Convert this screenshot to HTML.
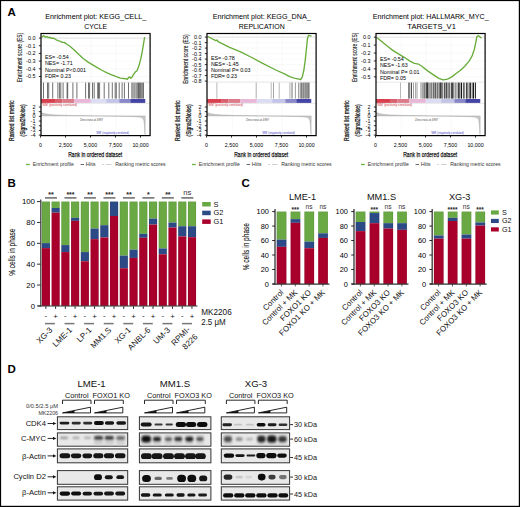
<!DOCTYPE html>
<html><head><meta charset="utf-8"><style>
html,body{margin:0;padding:0;background:#fff;}
svg{display:block;font-family:"Liberation Sans", sans-serif;}
</style></head><body>
<svg width="520" height="507" viewBox="0 0 520 507">
<rect width="520" height="507" fill="#fff"/>
<text x="95.70" y="19.40" font-size="7.1" text-anchor="middle" fill="#000" textLength="101" lengthAdjust="spacingAndGlyphs">Enrichment plot: KEGG_CELL_</text>
<text x="95.70" y="28.60" font-size="7.1" text-anchor="middle" fill="#000" textLength="23" lengthAdjust="spacingAndGlyphs">CYCLE</text>
<line x1="66.25" y1="33.50" x2="66.25" y2="82.00" stroke="#f0f0f0" stroke-width="0.5"/>
<line x1="66.25" y1="103.00" x2="66.25" y2="135.60" stroke="#f0f0f0" stroke-width="0.5"/>
<line x1="91.20" y1="33.50" x2="91.20" y2="82.00" stroke="#f0f0f0" stroke-width="0.5"/>
<line x1="91.20" y1="103.00" x2="91.20" y2="135.60" stroke="#f0f0f0" stroke-width="0.5"/>
<line x1="116.15" y1="33.50" x2="116.15" y2="82.00" stroke="#f0f0f0" stroke-width="0.5"/>
<line x1="116.15" y1="103.00" x2="116.15" y2="135.60" stroke="#f0f0f0" stroke-width="0.5"/>
<line x1="38.80" y1="38.10" x2="41.00" y2="38.10" stroke="#000" stroke-width="0.8"/>
<text x="35.40" y="40.00" font-size="5.4" text-anchor="end" fill="#000">0.0</text>
<line x1="41.00" y1="38.10" x2="150.10" y2="38.10" stroke="#dadada" stroke-width="0.8"/>
<line x1="38.80" y1="45.78" x2="41.00" y2="45.78" stroke="#000" stroke-width="0.8"/>
<text x="35.40" y="47.68" font-size="5.4" text-anchor="end" fill="#000">-0.1</text>
<line x1="41.00" y1="45.78" x2="150.10" y2="45.78" stroke="#f2f2f2" stroke-width="0.5"/>
<line x1="38.80" y1="53.46" x2="41.00" y2="53.46" stroke="#000" stroke-width="0.8"/>
<text x="35.40" y="55.36" font-size="5.4" text-anchor="end" fill="#000">-0.2</text>
<line x1="41.00" y1="53.46" x2="150.10" y2="53.46" stroke="#f2f2f2" stroke-width="0.5"/>
<line x1="38.80" y1="61.14" x2="41.00" y2="61.14" stroke="#000" stroke-width="0.8"/>
<text x="35.40" y="63.04" font-size="5.4" text-anchor="end" fill="#000">-0.3</text>
<line x1="41.00" y1="61.14" x2="150.10" y2="61.14" stroke="#f2f2f2" stroke-width="0.5"/>
<line x1="38.80" y1="68.82" x2="41.00" y2="68.82" stroke="#000" stroke-width="0.8"/>
<text x="35.40" y="70.72" font-size="5.4" text-anchor="end" fill="#000">-0.4</text>
<line x1="41.00" y1="68.82" x2="150.10" y2="68.82" stroke="#f2f2f2" stroke-width="0.5"/>
<line x1="38.80" y1="76.50" x2="41.00" y2="76.50" stroke="#000" stroke-width="0.8"/>
<text x="35.40" y="78.40" font-size="5.4" text-anchor="end" fill="#000">-0.5</text>
<line x1="41.00" y1="76.50" x2="150.10" y2="76.50" stroke="#f2f2f2" stroke-width="0.5"/>
<line x1="38.80" y1="107.00" x2="41.00" y2="107.00" stroke="#000" stroke-width="0.8"/>
<text x="35.40" y="108.90" font-size="5.4" text-anchor="end" fill="#000">2</text>
<line x1="38.80" y1="111.68" x2="41.00" y2="111.68" stroke="#000" stroke-width="0.8"/>
<text x="35.40" y="113.58" font-size="5.4" text-anchor="end" fill="#000">1</text>
<line x1="38.80" y1="116.36" x2="41.00" y2="116.36" stroke="#000" stroke-width="0.8"/>
<text x="35.40" y="118.26" font-size="5.4" text-anchor="end" fill="#000">0</text>
<line x1="38.80" y1="121.04" x2="41.00" y2="121.04" stroke="#000" stroke-width="0.8"/>
<text x="35.40" y="122.94" font-size="5.4" text-anchor="end" fill="#000">-1</text>
<line x1="38.80" y1="125.72" x2="41.00" y2="125.72" stroke="#000" stroke-width="0.8"/>
<text x="35.40" y="127.62" font-size="5.4" text-anchor="end" fill="#000">-2</text>
<line x1="38.80" y1="130.40" x2="41.00" y2="130.40" stroke="#000" stroke-width="0.8"/>
<text x="35.40" y="132.30" font-size="5.4" text-anchor="end" fill="#000">-3</text>
<line x1="38.80" y1="135.08" x2="41.00" y2="135.08" stroke="#000" stroke-width="0.8"/>
<text x="35.40" y="136.98" font-size="5.4" text-anchor="end" fill="#000">-4</text>
<line x1="41.00" y1="82.20" x2="150.10" y2="82.20" stroke="#d8d8d8" stroke-width="0.6"/>
<line x1="41.00" y1="103.40" x2="150.10" y2="103.40" stroke="#d8d8d8" stroke-width="0.6"/>
<line x1="43.50" y1="82.60" x2="43.50" y2="98.60" stroke="#333" stroke-width="0.7"/>
<line x1="47.50" y1="82.60" x2="47.50" y2="98.60" stroke="#333" stroke-width="0.7"/>
<line x1="48.70" y1="82.60" x2="48.70" y2="98.60" stroke="#333" stroke-width="0.7"/>
<line x1="52.70" y1="82.60" x2="52.70" y2="98.60" stroke="#333" stroke-width="0.7"/>
<line x1="57.90" y1="82.60" x2="57.90" y2="98.60" stroke="#333" stroke-width="0.7"/>
<line x1="59.60" y1="82.60" x2="59.60" y2="98.60" stroke="#333" stroke-width="0.7"/>
<line x1="60.80" y1="82.60" x2="60.80" y2="98.60" stroke="#333" stroke-width="0.7"/>
<line x1="63.10" y1="82.60" x2="63.10" y2="98.60" stroke="#333" stroke-width="0.7"/>
<line x1="67.10" y1="82.60" x2="67.10" y2="98.60" stroke="#333" stroke-width="0.7"/>
<line x1="67.70" y1="82.60" x2="67.70" y2="98.60" stroke="#333" stroke-width="0.7"/>
<line x1="72.90" y1="82.60" x2="72.90" y2="98.60" stroke="#333" stroke-width="0.7"/>
<line x1="76.90" y1="82.60" x2="76.90" y2="98.60" stroke="#333" stroke-width="0.7"/>
<line x1="85.60" y1="82.60" x2="85.60" y2="98.60" stroke="#333" stroke-width="0.7"/>
<line x1="88.50" y1="82.60" x2="88.50" y2="98.60" stroke="#333" stroke-width="0.7"/>
<line x1="89.60" y1="82.60" x2="89.60" y2="98.60" stroke="#333" stroke-width="0.7"/>
<line x1="92.50" y1="82.60" x2="92.50" y2="98.60" stroke="#333" stroke-width="0.7"/>
<line x1="94.20" y1="82.60" x2="94.20" y2="98.60" stroke="#333" stroke-width="0.7"/>
<line x1="97.70" y1="82.60" x2="97.70" y2="98.60" stroke="#333" stroke-width="0.7"/>
<line x1="98.50" y1="82.60" x2="98.50" y2="98.60" stroke="#333" stroke-width="0.7"/>
<line x1="99.60" y1="82.60" x2="99.60" y2="98.60" stroke="#333" stroke-width="0.7"/>
<line x1="104.20" y1="82.60" x2="104.20" y2="98.60" stroke="#333" stroke-width="0.7"/>
<line x1="108.80" y1="82.60" x2="108.80" y2="98.60" stroke="#333" stroke-width="0.7"/>
<line x1="112.30" y1="82.60" x2="112.30" y2="98.60" stroke="#333" stroke-width="0.7"/>
<line x1="115.20" y1="82.60" x2="115.20" y2="98.60" stroke="#333" stroke-width="0.7"/>
<line x1="116.30" y1="82.60" x2="116.30" y2="98.60" stroke="#333" stroke-width="0.7"/>
<line x1="119.20" y1="82.60" x2="119.20" y2="98.60" stroke="#333" stroke-width="0.7"/>
<line x1="122.10" y1="82.60" x2="122.10" y2="98.60" stroke="#333" stroke-width="0.7"/>
<line x1="124.40" y1="82.60" x2="124.40" y2="98.60" stroke="#333" stroke-width="0.7"/>
<line x1="128.50" y1="82.60" x2="128.50" y2="98.60" stroke="#333" stroke-width="0.7"/>
<line x1="131.90" y1="82.60" x2="131.90" y2="98.60" stroke="#333" stroke-width="0.7"/>
<line x1="133.10" y1="82.60" x2="133.10" y2="98.60" stroke="#333" stroke-width="0.7"/>
<line x1="134.80" y1="82.60" x2="134.80" y2="98.60" stroke="#333" stroke-width="0.7"/>
<line x1="136.20" y1="82.60" x2="136.20" y2="98.60" stroke="#333" stroke-width="0.7"/>
<line x1="137.70" y1="82.60" x2="137.70" y2="98.60" stroke="#333" stroke-width="0.7"/>
<line x1="138.50" y1="82.60" x2="138.50" y2="98.60" stroke="#333" stroke-width="0.7"/>
<line x1="139.40" y1="82.60" x2="139.40" y2="98.60" stroke="#333" stroke-width="0.7"/>
<line x1="140.30" y1="82.60" x2="140.30" y2="98.60" stroke="#333" stroke-width="0.7"/>
<line x1="141.20" y1="82.60" x2="141.20" y2="98.60" stroke="#333" stroke-width="0.7"/>
<line x1="142.30" y1="82.60" x2="142.30" y2="98.60" stroke="#333" stroke-width="0.7"/>
<line x1="143.50" y1="82.60" x2="143.50" y2="98.60" stroke="#333" stroke-width="0.7"/>
<rect x="41.20" y="99.00" width="14.61" height="3.90" fill="#d8404f"/>
<rect x="55.76" y="99.00" width="6.60" height="3.90" fill="#d8606f"/>
<rect x="62.31" y="99.00" width="12.11" height="3.90" fill="#dc7c8a"/>
<rect x="74.38" y="99.00" width="16.48" height="3.90" fill="#e8b8d8"/>
<rect x="90.81" y="99.00" width="15.44" height="3.90" fill="#dcdcf2"/>
<rect x="106.20" y="99.00" width="13.15" height="3.90" fill="#c4c4e8"/>
<rect x="119.30" y="99.00" width="11.07" height="3.90" fill="#8888c8"/>
<rect x="130.33" y="99.00" width="14.92" height="3.90" fill="#4444a6"/>
<text x="42.00" y="105.60" font-size="2.6" fill="#d03040" textLength="35" lengthAdjust="spacingAndGlyphs">'WM' (positively correlated)</text>
<text x="80.00" y="120.80" font-size="3.0" fill="#444" textLength="23" lengthAdjust="spacingAndGlyphs">Zero cross at 4997</text>
<text x="96.00" y="134.00" font-size="2.6" fill="#4040c0" textLength="33" lengthAdjust="spacingAndGlyphs">'MM' (negatively correlated)</text>
<polygon points="41.50,115.90 41.50,112.60 44.00,113.60 49.00,114.40 56.00,115.00 71.00,115.50 91.00,115.80 93.00,115.90 116.00,116.20 136.00,116.70 141.00,117.30 143.00,118.50 144.00,121.00 144.60,127.00 145.00,134.50 145.20,115.90" fill="#c8c8c8" stroke="#999" stroke-width="0.4"/>
<polyline points="41.92,37.23 43.77,35.62 45.39,37.23 47.00,36.54 48.39,37.69 50.00,37.23 51.62,38.39 53.46,38.15 55.77,39.54 58.08,40.69 60.39,41.39 62.23,42.31 63.85,42.31 66.16,43.69 69.62,46.00 74.23,49.92 78.85,54.54 83.47,58.69 88.08,62.16 92.70,64.93 97.31,67.70 101.93,70.23 106.54,72.54 111.16,74.62 115.78,76.47 120.39,78.08 123.85,78.54 126.16,78.77 127.31,79.47 128.47,77.62 129.62,76.93 130.78,78.31 131.93,77.16 133.78,74.16 135.39,71.85 137.01,70.70 138.85,66.08 140.70,59.16 142.32,51.08 143.47,44.16 144.62,37.23" stroke="#68ad3a" stroke-width="1.35" fill="none" stroke-linejoin="round"/>
<text x="44.90" y="59.15" font-size="5.35" fill="#000">ES= -0.54</text>
<text x="44.90" y="65.38" font-size="5.35" fill="#000">NES= -1.71</text>
<text x="44.90" y="71.61" font-size="5.35" fill="#000">Nominal P&lt;0.001</text>
<text x="44.90" y="77.84" font-size="5.35" fill="#000">FDR= 0.23</text>
<rect x="41.00" y="33.5" width="109.10" height="102.10" fill="none" stroke="#000" stroke-width="1.2"/>
<line x1="40.50" y1="135.60" x2="40.50" y2="137.60" stroke="#000" stroke-width="0.8"/>
<text x="40.50" y="146.60" font-size="5.3" text-anchor="middle" fill="#000">0</text>
<line x1="65.50" y1="135.60" x2="65.50" y2="137.60" stroke="#000" stroke-width="0.8"/>
<text x="65.50" y="146.60" font-size="5.3" text-anchor="middle" fill="#000">2,500</text>
<line x1="90.50" y1="135.60" x2="90.50" y2="137.60" stroke="#000" stroke-width="0.8"/>
<text x="90.50" y="146.60" font-size="5.3" text-anchor="middle" fill="#000">5,000</text>
<line x1="115.50" y1="135.60" x2="115.50" y2="137.60" stroke="#000" stroke-width="0.8"/>
<text x="115.50" y="146.60" font-size="5.3" text-anchor="middle" fill="#000">7,500</text>
<line x1="140.50" y1="135.60" x2="140.50" y2="137.60" stroke="#000" stroke-width="0.8"/>
<text x="140.50" y="146.60" font-size="5.3" text-anchor="middle" fill="#000">10,000</text>
<text x="95.20" y="157.00" font-size="7.8" text-anchor="middle" fill="#111" textLength="54" lengthAdjust="spacingAndGlyphs" stroke="#111" stroke-width="0.25">Rank in ordered dataset</text>
<text transform="translate(21.60,57.50) rotate(-90)" font-size="7.4" text-anchor="middle" fill="#111" textLength="49.5" lengthAdjust="spacingAndGlyphs" stroke="#111" stroke-width="0.12">Enrichment score (ES)</text>
<text transform="translate(14.40,120.7) rotate(-90)" font-size="7.4" text-anchor="middle" fill="#111" textLength="40.5" lengthAdjust="spacingAndGlyphs" stroke="#111" stroke-width="0.25">Ranked list metric</text>
<text transform="translate(25.10,120.4) rotate(-90)" font-size="7.4" text-anchor="middle" fill="#111" textLength="32" lengthAdjust="spacingAndGlyphs" stroke="#111" stroke-width="0.25">(Signal2Noise)</text>
<line x1="26.00" y1="164.50" x2="29.80" y2="164.50" stroke="#6db33f" stroke-width="1.3"/>
<text x="32.80" y="166.30" font-size="5.2" fill="#333" textLength="41" lengthAdjust="spacingAndGlyphs">Enrichment profile</text>
<line x1="80.60" y1="164.50" x2="84.00" y2="164.50" stroke="#555" stroke-width="0.9"/>
<text x="85.80" y="166.30" font-size="5.2" fill="#333" textLength="9.8" lengthAdjust="spacingAndGlyphs">Hits</text>
<line x1="102.20" y1="164.50" x2="104.00" y2="164.50" stroke="#bbb" stroke-width="0.7"/>
<line x1="106.00" y1="164.50" x2="111.70" y2="164.50" stroke="#bbb" stroke-width="0.7"/>
<text x="115.20" y="166.30" font-size="5.2" fill="#333" textLength="50.5" lengthAdjust="spacingAndGlyphs">Ranking metric scores</text>
<text x="261.70" y="19.40" font-size="7.1" text-anchor="middle" fill="#000" textLength="98" lengthAdjust="spacingAndGlyphs">Enrichment plot: KEGG_DNA_</text>
<text x="261.70" y="28.60" font-size="7.1" text-anchor="middle" fill="#000" textLength="46" lengthAdjust="spacingAndGlyphs">REPLICATION</text>
<line x1="232.25" y1="33.50" x2="232.25" y2="82.00" stroke="#f0f0f0" stroke-width="0.5"/>
<line x1="232.25" y1="103.00" x2="232.25" y2="135.60" stroke="#f0f0f0" stroke-width="0.5"/>
<line x1="257.20" y1="33.50" x2="257.20" y2="82.00" stroke="#f0f0f0" stroke-width="0.5"/>
<line x1="257.20" y1="103.00" x2="257.20" y2="135.60" stroke="#f0f0f0" stroke-width="0.5"/>
<line x1="282.15" y1="33.50" x2="282.15" y2="82.00" stroke="#f0f0f0" stroke-width="0.5"/>
<line x1="282.15" y1="103.00" x2="282.15" y2="135.60" stroke="#f0f0f0" stroke-width="0.5"/>
<line x1="204.80" y1="37.10" x2="207.00" y2="37.10" stroke="#000" stroke-width="0.8"/>
<text x="201.40" y="39.00" font-size="5.4" text-anchor="end" fill="#000">0.0</text>
<line x1="207.00" y1="37.10" x2="316.10" y2="37.10" stroke="#dadada" stroke-width="0.8"/>
<line x1="204.80" y1="42.60" x2="207.00" y2="42.60" stroke="#000" stroke-width="0.8"/>
<text x="201.40" y="44.50" font-size="5.4" text-anchor="end" fill="#000">-0.1</text>
<line x1="207.00" y1="42.60" x2="316.10" y2="42.60" stroke="#f2f2f2" stroke-width="0.5"/>
<line x1="204.80" y1="48.10" x2="207.00" y2="48.10" stroke="#000" stroke-width="0.8"/>
<text x="201.40" y="50.00" font-size="5.4" text-anchor="end" fill="#000">-0.2</text>
<line x1="207.00" y1="48.10" x2="316.10" y2="48.10" stroke="#f2f2f2" stroke-width="0.5"/>
<line x1="204.80" y1="53.60" x2="207.00" y2="53.60" stroke="#000" stroke-width="0.8"/>
<text x="201.40" y="55.50" font-size="5.4" text-anchor="end" fill="#000">-0.3</text>
<line x1="207.00" y1="53.60" x2="316.10" y2="53.60" stroke="#f2f2f2" stroke-width="0.5"/>
<line x1="204.80" y1="59.10" x2="207.00" y2="59.10" stroke="#000" stroke-width="0.8"/>
<text x="201.40" y="61.00" font-size="5.4" text-anchor="end" fill="#000">-0.4</text>
<line x1="207.00" y1="59.10" x2="316.10" y2="59.10" stroke="#f2f2f2" stroke-width="0.5"/>
<line x1="204.80" y1="64.60" x2="207.00" y2="64.60" stroke="#000" stroke-width="0.8"/>
<text x="201.40" y="66.50" font-size="5.4" text-anchor="end" fill="#000">-0.5</text>
<line x1="207.00" y1="64.60" x2="316.10" y2="64.60" stroke="#f2f2f2" stroke-width="0.5"/>
<line x1="204.80" y1="70.10" x2="207.00" y2="70.10" stroke="#000" stroke-width="0.8"/>
<text x="201.40" y="72.00" font-size="5.4" text-anchor="end" fill="#000">-0.6</text>
<line x1="207.00" y1="70.10" x2="316.10" y2="70.10" stroke="#f2f2f2" stroke-width="0.5"/>
<line x1="204.80" y1="75.60" x2="207.00" y2="75.60" stroke="#000" stroke-width="0.8"/>
<text x="201.40" y="77.50" font-size="5.4" text-anchor="end" fill="#000">-0.7</text>
<line x1="207.00" y1="75.60" x2="316.10" y2="75.60" stroke="#f2f2f2" stroke-width="0.5"/>
<line x1="204.80" y1="81.10" x2="207.00" y2="81.10" stroke="#000" stroke-width="0.8"/>
<text x="201.40" y="83.00" font-size="5.4" text-anchor="end" fill="#000">-0.8</text>
<line x1="207.00" y1="81.10" x2="316.10" y2="81.10" stroke="#f2f2f2" stroke-width="0.5"/>
<line x1="204.80" y1="107.00" x2="207.00" y2="107.00" stroke="#000" stroke-width="0.8"/>
<text x="201.40" y="108.90" font-size="5.4" text-anchor="end" fill="#000">2</text>
<line x1="204.80" y1="111.68" x2="207.00" y2="111.68" stroke="#000" stroke-width="0.8"/>
<text x="201.40" y="113.58" font-size="5.4" text-anchor="end" fill="#000">1</text>
<line x1="204.80" y1="116.36" x2="207.00" y2="116.36" stroke="#000" stroke-width="0.8"/>
<text x="201.40" y="118.26" font-size="5.4" text-anchor="end" fill="#000">0</text>
<line x1="204.80" y1="121.04" x2="207.00" y2="121.04" stroke="#000" stroke-width="0.8"/>
<text x="201.40" y="122.94" font-size="5.4" text-anchor="end" fill="#000">-1</text>
<line x1="204.80" y1="125.72" x2="207.00" y2="125.72" stroke="#000" stroke-width="0.8"/>
<text x="201.40" y="127.62" font-size="5.4" text-anchor="end" fill="#000">-2</text>
<line x1="204.80" y1="130.40" x2="207.00" y2="130.40" stroke="#000" stroke-width="0.8"/>
<text x="201.40" y="132.30" font-size="5.4" text-anchor="end" fill="#000">-3</text>
<line x1="204.80" y1="135.08" x2="207.00" y2="135.08" stroke="#000" stroke-width="0.8"/>
<text x="201.40" y="136.98" font-size="5.4" text-anchor="end" fill="#000">-4</text>
<line x1="207.00" y1="82.20" x2="316.10" y2="82.20" stroke="#d8d8d8" stroke-width="0.6"/>
<line x1="207.00" y1="103.40" x2="316.10" y2="103.40" stroke="#d8d8d8" stroke-width="0.6"/>
<line x1="216.90" y1="82.60" x2="216.90" y2="98.60" stroke="#888" stroke-width="0.6"/>
<line x1="256.20" y1="82.60" x2="256.20" y2="98.60" stroke="#777" stroke-width="0.6"/>
<line x1="271.20" y1="82.60" x2="271.20" y2="98.60" stroke="#888" stroke-width="0.6"/>
<line x1="273.50" y1="82.60" x2="273.50" y2="98.60" stroke="#666" stroke-width="0.6"/>
<line x1="279.20" y1="82.60" x2="279.20" y2="98.60" stroke="#888" stroke-width="0.6"/>
<line x1="289.60" y1="82.60" x2="289.60" y2="98.60" stroke="#aaa" stroke-width="0.6"/>
<line x1="291.20" y1="82.60" x2="291.20" y2="98.60" stroke="#666" stroke-width="0.6"/>
<line x1="292.40" y1="82.60" x2="292.40" y2="98.60" stroke="#777" stroke-width="0.6"/>
<line x1="295.40" y1="82.60" x2="295.40" y2="98.60" stroke="#555" stroke-width="0.6"/>
<line x1="298.80" y1="82.60" x2="298.80" y2="98.60" stroke="#444" stroke-width="0.7"/>
<line x1="300.50" y1="82.60" x2="300.50" y2="98.60" stroke="#666" stroke-width="0.6"/>
<line x1="301.60" y1="82.60" x2="301.60" y2="98.60" stroke="#333" stroke-width="0.7"/>
<line x1="302.70" y1="82.60" x2="302.70" y2="98.60" stroke="#555" stroke-width="0.6"/>
<line x1="303.80" y1="82.60" x2="303.80" y2="98.60" stroke="#222" stroke-width="0.7"/>
<line x1="305.00" y1="82.60" x2="305.00" y2="98.60" stroke="#444" stroke-width="0.6"/>
<line x1="306.00" y1="82.60" x2="306.00" y2="98.60" stroke="#222" stroke-width="0.7"/>
<line x1="307.10" y1="82.60" x2="307.10" y2="98.60" stroke="#333" stroke-width="0.6"/>
<line x1="308.20" y1="82.60" x2="308.20" y2="98.60" stroke="#111" stroke-width="0.7"/>
<line x1="309.20" y1="82.60" x2="309.20" y2="98.60" stroke="#444" stroke-width="0.6"/>
<rect x="207.20" y="99.00" width="14.61" height="3.90" fill="#d8404f"/>
<rect x="221.76" y="99.00" width="6.60" height="3.90" fill="#d8606f"/>
<rect x="228.31" y="99.00" width="12.11" height="3.90" fill="#dc7c8a"/>
<rect x="240.38" y="99.00" width="16.48" height="3.90" fill="#e8b8d8"/>
<rect x="256.81" y="99.00" width="15.44" height="3.90" fill="#dcdcf2"/>
<rect x="272.20" y="99.00" width="13.15" height="3.90" fill="#c4c4e8"/>
<rect x="285.30" y="99.00" width="11.07" height="3.90" fill="#8888c8"/>
<rect x="296.33" y="99.00" width="14.92" height="3.90" fill="#4444a6"/>
<text x="208.00" y="105.60" font-size="2.6" fill="#d03040" textLength="35" lengthAdjust="spacingAndGlyphs">'WM' (positively correlated)</text>
<text x="246.00" y="120.80" font-size="3.0" fill="#444" textLength="23" lengthAdjust="spacingAndGlyphs">Zero cross at 4997</text>
<text x="262.00" y="134.00" font-size="2.6" fill="#4040c0" textLength="33" lengthAdjust="spacingAndGlyphs">'MM' (negatively correlated)</text>
<polygon points="207.50,115.90 207.50,112.60 210.00,113.60 215.00,114.40 222.00,115.00 237.00,115.50 257.00,115.80 259.00,115.90 282.00,116.20 302.00,116.70 307.00,117.30 309.00,118.50 310.00,121.00 310.60,127.00 311.00,134.50 311.20,115.90" fill="#c8c8c8" stroke="#999" stroke-width="0.4"/>
<polyline points="207.70,36.50 215.80,40.70 216.90,40.00 218.10,41.60 229.60,47.40 241.20,52.20 252.70,58.00 264.20,64.20 275.80,70.00 285.00,74.20 289.60,76.70 294.20,78.10 298.90,79.20 300.70,79.70 302.30,76.90 303.90,70.00 305.30,59.60 306.50,48.10 307.40,38.80 308.50,35.40 310.40,35.80 311.50,36.10" stroke="#68ad3a" stroke-width="1.35" fill="none" stroke-linejoin="round"/>
<text x="210.90" y="59.85" font-size="5.35" fill="#000">ES= -0.78</text>
<text x="210.90" y="65.92" font-size="5.35" fill="#000">NES= -1.45</text>
<text x="210.90" y="71.99" font-size="5.35" fill="#000">Nominal P= 0.03</text>
<text x="210.90" y="78.06" font-size="5.35" fill="#000">FDR= 0.23</text>
<rect x="207.00" y="33.5" width="109.10" height="102.10" fill="none" stroke="#000" stroke-width="1.2"/>
<line x1="206.50" y1="135.60" x2="206.50" y2="137.60" stroke="#000" stroke-width="0.8"/>
<text x="206.50" y="146.60" font-size="5.3" text-anchor="middle" fill="#000">0</text>
<line x1="231.50" y1="135.60" x2="231.50" y2="137.60" stroke="#000" stroke-width="0.8"/>
<text x="231.50" y="146.60" font-size="5.3" text-anchor="middle" fill="#000">2,500</text>
<line x1="256.50" y1="135.60" x2="256.50" y2="137.60" stroke="#000" stroke-width="0.8"/>
<text x="256.50" y="146.60" font-size="5.3" text-anchor="middle" fill="#000">5,000</text>
<line x1="281.50" y1="135.60" x2="281.50" y2="137.60" stroke="#000" stroke-width="0.8"/>
<text x="281.50" y="146.60" font-size="5.3" text-anchor="middle" fill="#000">7,500</text>
<line x1="306.50" y1="135.60" x2="306.50" y2="137.60" stroke="#000" stroke-width="0.8"/>
<text x="306.50" y="146.60" font-size="5.3" text-anchor="middle" fill="#000">10,000</text>
<text x="261.20" y="157.00" font-size="7.8" text-anchor="middle" fill="#111" textLength="54" lengthAdjust="spacingAndGlyphs" stroke="#111" stroke-width="0.25">Rank in ordered dataset</text>
<text transform="translate(187.60,59.00) rotate(-90)" font-size="7.4" text-anchor="middle" fill="#111" textLength="49.5" lengthAdjust="spacingAndGlyphs" stroke="#111" stroke-width="0.12">Enrichment score (ES)</text>
<text transform="translate(180.40,120.7) rotate(-90)" font-size="7.4" text-anchor="middle" fill="#111" textLength="40.5" lengthAdjust="spacingAndGlyphs" stroke="#111" stroke-width="0.25">Ranked list metric</text>
<text transform="translate(191.10,120.4) rotate(-90)" font-size="7.4" text-anchor="middle" fill="#111" textLength="32" lengthAdjust="spacingAndGlyphs" stroke="#111" stroke-width="0.25">(Signal2Noise)</text>
<line x1="192.00" y1="164.50" x2="195.80" y2="164.50" stroke="#6db33f" stroke-width="1.3"/>
<text x="198.80" y="166.30" font-size="5.2" fill="#333" textLength="41" lengthAdjust="spacingAndGlyphs">Enrichment profile</text>
<line x1="246.60" y1="164.50" x2="250.00" y2="164.50" stroke="#555" stroke-width="0.9"/>
<text x="251.80" y="166.30" font-size="5.2" fill="#333" textLength="9.8" lengthAdjust="spacingAndGlyphs">Hits</text>
<line x1="268.20" y1="164.50" x2="270.00" y2="164.50" stroke="#bbb" stroke-width="0.7"/>
<line x1="272.00" y1="164.50" x2="277.70" y2="164.50" stroke="#bbb" stroke-width="0.7"/>
<text x="281.20" y="166.30" font-size="5.2" fill="#333" textLength="50.5" lengthAdjust="spacingAndGlyphs">Ranking metric scores</text>
<text x="430.70" y="19.40" font-size="7.1" text-anchor="middle" fill="#000" textLength="116" lengthAdjust="spacingAndGlyphs">Enrichment plot: HALLMARK_MYC_</text>
<text x="431.60" y="28.60" font-size="7.1" text-anchor="middle" fill="#000" textLength="48.5" lengthAdjust="spacingAndGlyphs">TARGETS_V1</text>
<line x1="401.25" y1="33.50" x2="401.25" y2="82.00" stroke="#f0f0f0" stroke-width="0.5"/>
<line x1="401.25" y1="103.00" x2="401.25" y2="135.60" stroke="#f0f0f0" stroke-width="0.5"/>
<line x1="426.20" y1="33.50" x2="426.20" y2="82.00" stroke="#f0f0f0" stroke-width="0.5"/>
<line x1="426.20" y1="103.00" x2="426.20" y2="135.60" stroke="#f0f0f0" stroke-width="0.5"/>
<line x1="451.15" y1="33.50" x2="451.15" y2="82.00" stroke="#f0f0f0" stroke-width="0.5"/>
<line x1="451.15" y1="103.00" x2="451.15" y2="135.60" stroke="#f0f0f0" stroke-width="0.5"/>
<line x1="373.80" y1="37.20" x2="376.00" y2="37.20" stroke="#000" stroke-width="0.8"/>
<text x="370.40" y="39.10" font-size="5.4" text-anchor="end" fill="#000">0.0</text>
<line x1="376.00" y1="37.20" x2="485.10" y2="37.20" stroke="#dadada" stroke-width="0.8"/>
<line x1="373.80" y1="45.12" x2="376.00" y2="45.12" stroke="#000" stroke-width="0.8"/>
<text x="370.40" y="47.02" font-size="5.4" text-anchor="end" fill="#000">-0.1</text>
<line x1="376.00" y1="45.12" x2="485.10" y2="45.12" stroke="#f2f2f2" stroke-width="0.5"/>
<line x1="373.80" y1="53.04" x2="376.00" y2="53.04" stroke="#000" stroke-width="0.8"/>
<text x="370.40" y="54.94" font-size="5.4" text-anchor="end" fill="#000">-0.2</text>
<line x1="376.00" y1="53.04" x2="485.10" y2="53.04" stroke="#f2f2f2" stroke-width="0.5"/>
<line x1="373.80" y1="60.96" x2="376.00" y2="60.96" stroke="#000" stroke-width="0.8"/>
<text x="370.40" y="62.86" font-size="5.4" text-anchor="end" fill="#000">-0.3</text>
<line x1="376.00" y1="60.96" x2="485.10" y2="60.96" stroke="#f2f2f2" stroke-width="0.5"/>
<line x1="373.80" y1="68.88" x2="376.00" y2="68.88" stroke="#000" stroke-width="0.8"/>
<text x="370.40" y="70.78" font-size="5.4" text-anchor="end" fill="#000">-0.4</text>
<line x1="376.00" y1="68.88" x2="485.10" y2="68.88" stroke="#f2f2f2" stroke-width="0.5"/>
<line x1="373.80" y1="76.80" x2="376.00" y2="76.80" stroke="#000" stroke-width="0.8"/>
<text x="370.40" y="78.70" font-size="5.4" text-anchor="end" fill="#000">-0.5</text>
<line x1="376.00" y1="76.80" x2="485.10" y2="76.80" stroke="#f2f2f2" stroke-width="0.5"/>
<line x1="373.80" y1="107.00" x2="376.00" y2="107.00" stroke="#000" stroke-width="0.8"/>
<text x="370.40" y="108.90" font-size="5.4" text-anchor="end" fill="#000">2</text>
<line x1="373.80" y1="111.68" x2="376.00" y2="111.68" stroke="#000" stroke-width="0.8"/>
<text x="370.40" y="113.58" font-size="5.4" text-anchor="end" fill="#000">1</text>
<line x1="373.80" y1="116.36" x2="376.00" y2="116.36" stroke="#000" stroke-width="0.8"/>
<text x="370.40" y="118.26" font-size="5.4" text-anchor="end" fill="#000">0</text>
<line x1="373.80" y1="121.04" x2="376.00" y2="121.04" stroke="#000" stroke-width="0.8"/>
<text x="370.40" y="122.94" font-size="5.4" text-anchor="end" fill="#000">-1</text>
<line x1="373.80" y1="125.72" x2="376.00" y2="125.72" stroke="#000" stroke-width="0.8"/>
<text x="370.40" y="127.62" font-size="5.4" text-anchor="end" fill="#000">-2</text>
<line x1="373.80" y1="130.40" x2="376.00" y2="130.40" stroke="#000" stroke-width="0.8"/>
<text x="370.40" y="132.30" font-size="5.4" text-anchor="end" fill="#000">-3</text>
<line x1="373.80" y1="135.08" x2="376.00" y2="135.08" stroke="#000" stroke-width="0.8"/>
<text x="370.40" y="136.98" font-size="5.4" text-anchor="end" fill="#000">-4</text>
<line x1="376.00" y1="82.20" x2="485.10" y2="82.20" stroke="#d8d8d8" stroke-width="0.6"/>
<line x1="376.00" y1="103.40" x2="485.10" y2="103.40" stroke="#d8d8d8" stroke-width="0.6"/>
<line x1="400.50" y1="82.60" x2="400.50" y2="98.60" stroke="#999" stroke-width="0.7"/>
<line x1="408.80" y1="82.60" x2="408.80" y2="98.60" stroke="#222" stroke-width="0.8"/>
<line x1="409.80" y1="82.60" x2="409.80" y2="98.60" stroke="#444" stroke-width="0.7"/>
<line x1="411.50" y1="82.60" x2="411.50" y2="98.60" stroke="#222" stroke-width="0.8"/>
<line x1="413.50" y1="82.60" x2="413.50" y2="98.60" stroke="#777" stroke-width="0.7"/>
<line x1="415.50" y1="82.60" x2="415.50" y2="98.60" stroke="#888" stroke-width="0.7"/>
<line x1="417.00" y1="82.60" x2="417.00" y2="98.60" stroke="#777" stroke-width="0.7"/>
<line x1="421.00" y1="82.60" x2="421.00" y2="98.60" stroke="#555" stroke-width="0.7"/>
<line x1="423.00" y1="82.60" x2="423.00" y2="98.60" stroke="#222" stroke-width="0.8"/>
<line x1="424.50" y1="82.60" x2="424.50" y2="98.60" stroke="#444" stroke-width="0.7"/>
<line x1="426.20" y1="82.60" x2="426.20" y2="98.60" stroke="#222" stroke-width="1.2"/>
<line x1="427.70" y1="82.60" x2="427.70" y2="98.60" stroke="#222" stroke-width="1.2"/>
<line x1="429.12" y1="82.60" x2="429.12" y2="98.60" stroke="#444" stroke-width="0.8"/>
<line x1="430.69" y1="82.60" x2="430.69" y2="98.60" stroke="#888" stroke-width="1.0"/>
<line x1="431.87" y1="82.60" x2="431.87" y2="98.60" stroke="#222" stroke-width="0.8"/>
<line x1="433.87" y1="82.60" x2="433.87" y2="98.60" stroke="#333" stroke-width="1.2"/>
<line x1="435.69" y1="82.60" x2="435.69" y2="98.60" stroke="#333" stroke-width="1.0"/>
<line x1="437.29" y1="82.60" x2="437.29" y2="98.60" stroke="#222" stroke-width="0.8"/>
<line x1="438.89" y1="82.60" x2="438.89" y2="98.60" stroke="#888" stroke-width="1.2"/>
<line x1="440.22" y1="82.60" x2="440.22" y2="98.60" stroke="#111" stroke-width="1.2"/>
<line x1="441.97" y1="82.60" x2="441.97" y2="98.60" stroke="#222" stroke-width="1.2"/>
<line x1="442.92" y1="82.60" x2="442.92" y2="98.60" stroke="#888" stroke-width="0.8"/>
<line x1="444.73" y1="82.60" x2="444.73" y2="98.60" stroke="#222" stroke-width="1.0"/>
<line x1="446.28" y1="82.60" x2="446.28" y2="98.60" stroke="#333" stroke-width="1.2"/>
<line x1="448.05" y1="82.60" x2="448.05" y2="98.60" stroke="#333" stroke-width="1.0"/>
<line x1="449.75" y1="82.60" x2="449.75" y2="98.60" stroke="#444" stroke-width="1.0"/>
<line x1="451.71" y1="82.60" x2="451.71" y2="98.60" stroke="#222" stroke-width="1.0"/>
<line x1="452.71" y1="82.60" x2="452.71" y2="98.60" stroke="#222" stroke-width="1.0"/>
<line x1="453.85" y1="82.60" x2="453.85" y2="98.60" stroke="#666" stroke-width="1.0"/>
<line x1="455.61" y1="82.60" x2="455.61" y2="98.60" stroke="#888" stroke-width="1.0"/>
<line x1="456.97" y1="82.60" x2="456.97" y2="98.60" stroke="#888" stroke-width="1.0"/>
<line x1="458.51" y1="82.60" x2="458.51" y2="98.60" stroke="#444" stroke-width="1.2"/>
<line x1="459.85" y1="82.60" x2="459.85" y2="98.60" stroke="#222" stroke-width="1.0"/>
<line x1="461.50" y1="82.60" x2="461.50" y2="98.60" stroke="#111" stroke-width="1.0"/>
<line x1="463.49" y1="82.60" x2="463.49" y2="98.60" stroke="#666" stroke-width="1.2"/>
<line x1="464.57" y1="82.60" x2="464.57" y2="98.60" stroke="#888" stroke-width="1.0"/>
<line x1="466.53" y1="82.60" x2="466.53" y2="98.60" stroke="#444" stroke-width="1.2"/>
<line x1="467.55" y1="82.60" x2="467.55" y2="98.60" stroke="#666" stroke-width="0.8"/>
<line x1="469.14" y1="82.60" x2="469.14" y2="98.60" stroke="#444" stroke-width="1.0"/>
<line x1="470.36" y1="82.60" x2="470.36" y2="98.60" stroke="#111" stroke-width="1.0"/>
<line x1="472.20" y1="82.60" x2="472.20" y2="98.60" stroke="#333" stroke-width="0.8"/>
<line x1="473.48" y1="82.60" x2="473.48" y2="98.60" stroke="#111" stroke-width="1.0"/>
<line x1="475.36" y1="82.60" x2="475.36" y2="98.60" stroke="#111" stroke-width="1.0"/>
<rect x="376.20" y="99.00" width="14.61" height="3.90" fill="#d8404f"/>
<rect x="390.76" y="99.00" width="6.60" height="3.90" fill="#d8606f"/>
<rect x="397.31" y="99.00" width="12.11" height="3.90" fill="#dc7c8a"/>
<rect x="409.38" y="99.00" width="16.48" height="3.90" fill="#e8b8d8"/>
<rect x="425.81" y="99.00" width="15.44" height="3.90" fill="#dcdcf2"/>
<rect x="441.20" y="99.00" width="13.15" height="3.90" fill="#c4c4e8"/>
<rect x="454.30" y="99.00" width="11.07" height="3.90" fill="#8888c8"/>
<rect x="465.33" y="99.00" width="14.92" height="3.90" fill="#4444a6"/>
<text x="377.00" y="105.60" font-size="2.6" fill="#d03040" textLength="35" lengthAdjust="spacingAndGlyphs">'WM' (positively correlated)</text>
<text x="415.00" y="120.80" font-size="3.0" fill="#444" textLength="23" lengthAdjust="spacingAndGlyphs">Zero cross at 4997</text>
<text x="431.00" y="134.00" font-size="2.6" fill="#4040c0" textLength="33" lengthAdjust="spacingAndGlyphs">'MM' (negatively correlated)</text>
<polygon points="376.50,115.90 376.50,112.60 379.00,113.60 384.00,114.40 391.00,115.00 406.00,115.50 426.00,115.80 428.00,115.90 451.00,116.20 471.00,116.70 476.00,117.30 478.00,118.50 479.00,121.00 479.60,127.00 480.00,134.50 480.20,115.90" fill="#c8c8c8" stroke="#999" stroke-width="0.4"/>
<polyline points="376.80,37.40 381.10,40.90 386.90,45.80 392.70,50.40 398.50,53.80 404.20,57.30 410.00,61.10 414.30,63.40 418.60,64.20 421.50,66.00 427.30,70.60 433.10,74.60 438.80,78.40 443.20,79.80 447.50,79.20 451.80,76.90 456.10,73.50 460.50,70.30 464.80,66.20 469.10,61.10 472.00,56.20 474.30,49.50 475.80,42.30 476.90,36.50 478.40,35.70 480.10,37.10 481.50,38.30" stroke="#68ad3a" stroke-width="1.35" fill="none" stroke-linejoin="round"/>
<text x="379.90" y="60.85" font-size="5.35" fill="#000">ES= -0.54</text>
<text x="379.90" y="67.30" font-size="5.35" fill="#000">NES= -1.63</text>
<text x="379.90" y="73.75" font-size="5.35" fill="#000">Nominal P= 0.01</text>
<text x="379.90" y="80.20" font-size="5.35" fill="#000">FDR= 0.05</text>
<rect x="376.00" y="33.5" width="109.10" height="102.10" fill="none" stroke="#000" stroke-width="1.2"/>
<line x1="375.50" y1="135.60" x2="375.50" y2="137.60" stroke="#000" stroke-width="0.8"/>
<text x="375.50" y="146.60" font-size="5.3" text-anchor="middle" fill="#000">0</text>
<line x1="400.50" y1="135.60" x2="400.50" y2="137.60" stroke="#000" stroke-width="0.8"/>
<text x="400.50" y="146.60" font-size="5.3" text-anchor="middle" fill="#000">2,500</text>
<line x1="425.50" y1="135.60" x2="425.50" y2="137.60" stroke="#000" stroke-width="0.8"/>
<text x="425.50" y="146.60" font-size="5.3" text-anchor="middle" fill="#000">5,000</text>
<line x1="450.50" y1="135.60" x2="450.50" y2="137.60" stroke="#000" stroke-width="0.8"/>
<text x="450.50" y="146.60" font-size="5.3" text-anchor="middle" fill="#000">7,500</text>
<line x1="475.50" y1="135.60" x2="475.50" y2="137.60" stroke="#000" stroke-width="0.8"/>
<text x="475.50" y="146.60" font-size="5.3" text-anchor="middle" fill="#000">10,000</text>
<text x="430.20" y="157.00" font-size="7.8" text-anchor="middle" fill="#111" textLength="54" lengthAdjust="spacingAndGlyphs" stroke="#111" stroke-width="0.25">Rank in ordered dataset</text>
<text transform="translate(356.60,57.30) rotate(-90)" font-size="7.4" text-anchor="middle" fill="#111" textLength="49.5" lengthAdjust="spacingAndGlyphs" stroke="#111" stroke-width="0.12">Enrichment score (ES)</text>
<text transform="translate(349.40,120.7) rotate(-90)" font-size="7.4" text-anchor="middle" fill="#111" textLength="40.5" lengthAdjust="spacingAndGlyphs" stroke="#111" stroke-width="0.25">Ranked list metric</text>
<text transform="translate(360.10,120.4) rotate(-90)" font-size="7.4" text-anchor="middle" fill="#111" textLength="32" lengthAdjust="spacingAndGlyphs" stroke="#111" stroke-width="0.25">(Signal2Noise)</text>
<line x1="361.00" y1="164.50" x2="364.80" y2="164.50" stroke="#6db33f" stroke-width="1.3"/>
<text x="367.80" y="166.30" font-size="5.2" fill="#333" textLength="41" lengthAdjust="spacingAndGlyphs">Enrichment profile</text>
<line x1="415.60" y1="164.50" x2="419.00" y2="164.50" stroke="#555" stroke-width="0.9"/>
<text x="420.80" y="166.30" font-size="5.2" fill="#333" textLength="9.8" lengthAdjust="spacingAndGlyphs">Hits</text>
<line x1="437.20" y1="164.50" x2="439.00" y2="164.50" stroke="#bbb" stroke-width="0.7"/>
<line x1="441.00" y1="164.50" x2="446.70" y2="164.50" stroke="#bbb" stroke-width="0.7"/>
<text x="450.20" y="166.30" font-size="5.2" fill="#333" textLength="50.5" lengthAdjust="spacingAndGlyphs">Ranking metric scores</text>
<text x="7.60" y="16.30" font-size="11.5" font-weight="bold" fill="#000">A</text>
<text x="7.60" y="187.00" font-size="11.5" font-weight="bold" fill="#000">B</text>
<rect x="41.85" y="201.60" width="8.10" height="41.51" fill="#69a843"/>
<rect x="41.85" y="243.11" width="8.10" height="5.01" fill="#2b4a86"/>
<rect x="41.85" y="248.12" width="8.10" height="57.78" fill="#a8002b"/>
<rect x="42.10" y="201.85" width="7.60" height="104.05" fill="none" stroke="#000" stroke-opacity="0.12" stroke-width="0.5"/>
<rect x="51.59" y="201.60" width="8.10" height="6.36" fill="#69a843"/>
<rect x="51.59" y="207.96" width="8.10" height="4.69" fill="#2b4a86"/>
<rect x="51.59" y="212.66" width="8.10" height="93.24" fill="#a8002b"/>
<rect x="51.84" y="201.85" width="7.60" height="104.05" fill="none" stroke="#000" stroke-opacity="0.12" stroke-width="0.5"/>
<rect x="61.33" y="201.60" width="8.10" height="43.49" fill="#69a843"/>
<rect x="61.33" y="245.09" width="8.10" height="6.99" fill="#2b4a86"/>
<rect x="61.33" y="252.08" width="8.10" height="53.82" fill="#a8002b"/>
<rect x="61.58" y="201.85" width="7.60" height="104.05" fill="none" stroke="#000" stroke-opacity="0.12" stroke-width="0.5"/>
<rect x="71.07" y="201.60" width="8.10" height="16.27" fill="#69a843"/>
<rect x="71.07" y="217.87" width="8.10" height="3.02" fill="#2b4a86"/>
<rect x="71.07" y="220.90" width="8.10" height="85.00" fill="#a8002b"/>
<rect x="71.32" y="201.85" width="7.60" height="104.05" fill="none" stroke="#000" stroke-opacity="0.12" stroke-width="0.5"/>
<rect x="80.81" y="201.60" width="8.10" height="50.48" fill="#69a843"/>
<rect x="80.81" y="252.08" width="8.10" height="9.18" fill="#2b4a86"/>
<rect x="80.81" y="261.26" width="8.10" height="44.64" fill="#a8002b"/>
<rect x="81.06" y="201.85" width="7.60" height="104.05" fill="none" stroke="#000" stroke-opacity="0.12" stroke-width="0.5"/>
<rect x="90.55" y="201.60" width="8.10" height="26.91" fill="#69a843"/>
<rect x="90.55" y="228.51" width="8.10" height="10.64" fill="#2b4a86"/>
<rect x="90.55" y="239.15" width="8.10" height="66.75" fill="#a8002b"/>
<rect x="90.80" y="201.85" width="7.60" height="104.05" fill="none" stroke="#000" stroke-opacity="0.12" stroke-width="0.5"/>
<rect x="100.29" y="201.60" width="8.10" height="23.57" fill="#69a843"/>
<rect x="100.29" y="225.17" width="8.10" height="12.31" fill="#2b4a86"/>
<rect x="100.29" y="237.48" width="8.10" height="68.42" fill="#a8002b"/>
<rect x="100.54" y="201.85" width="7.60" height="104.05" fill="none" stroke="#000" stroke-opacity="0.12" stroke-width="0.5"/>
<rect x="110.03" y="201.60" width="8.10" height="0.00" fill="#69a843"/>
<rect x="110.03" y="201.60" width="8.10" height="14.39" fill="#2b4a86"/>
<rect x="110.03" y="215.99" width="8.10" height="89.91" fill="#a8002b"/>
<rect x="110.28" y="201.85" width="7.60" height="104.05" fill="none" stroke="#000" stroke-opacity="0.12" stroke-width="0.5"/>
<rect x="119.77" y="201.60" width="8.10" height="54.03" fill="#69a843"/>
<rect x="119.77" y="255.63" width="8.10" height="12.62" fill="#2b4a86"/>
<rect x="119.77" y="268.25" width="8.10" height="37.65" fill="#a8002b"/>
<rect x="120.02" y="201.85" width="7.60" height="104.05" fill="none" stroke="#000" stroke-opacity="0.12" stroke-width="0.5"/>
<rect x="129.51" y="201.60" width="8.10" height="48.08" fill="#69a843"/>
<rect x="129.51" y="249.68" width="8.10" height="8.24" fill="#2b4a86"/>
<rect x="129.51" y="257.92" width="8.10" height="47.98" fill="#a8002b"/>
<rect x="129.76" y="201.85" width="7.60" height="104.05" fill="none" stroke="#000" stroke-opacity="0.12" stroke-width="0.5"/>
<rect x="139.25" y="201.60" width="8.10" height="32.23" fill="#69a843"/>
<rect x="139.25" y="233.83" width="8.10" height="3.96" fill="#2b4a86"/>
<rect x="139.25" y="237.79" width="8.10" height="68.11" fill="#a8002b"/>
<rect x="139.50" y="201.85" width="7.60" height="104.05" fill="none" stroke="#000" stroke-opacity="0.12" stroke-width="0.5"/>
<rect x="148.99" y="201.60" width="8.10" height="17.00" fill="#69a843"/>
<rect x="148.99" y="218.60" width="8.10" height="5.95" fill="#2b4a86"/>
<rect x="148.99" y="224.55" width="8.10" height="81.35" fill="#a8002b"/>
<rect x="149.24" y="201.85" width="7.60" height="104.05" fill="none" stroke="#000" stroke-opacity="0.12" stroke-width="0.5"/>
<rect x="158.73" y="201.60" width="8.10" height="46.83" fill="#69a843"/>
<rect x="158.73" y="248.43" width="8.10" height="5.84" fill="#2b4a86"/>
<rect x="158.73" y="254.27" width="8.10" height="51.63" fill="#a8002b"/>
<rect x="158.98" y="201.85" width="7.60" height="104.05" fill="none" stroke="#000" stroke-opacity="0.12" stroke-width="0.5"/>
<rect x="168.47" y="201.60" width="8.10" height="20.96" fill="#69a843"/>
<rect x="168.47" y="222.56" width="8.10" height="5.01" fill="#2b4a86"/>
<rect x="168.47" y="227.57" width="8.10" height="78.33" fill="#a8002b"/>
<rect x="168.72" y="201.85" width="7.60" height="104.05" fill="none" stroke="#000" stroke-opacity="0.12" stroke-width="0.5"/>
<rect x="178.21" y="201.60" width="8.10" height="24.61" fill="#69a843"/>
<rect x="178.21" y="226.21" width="8.10" height="10.22" fill="#2b4a86"/>
<rect x="178.21" y="236.44" width="8.10" height="69.46" fill="#a8002b"/>
<rect x="178.46" y="201.85" width="7.60" height="104.05" fill="none" stroke="#000" stroke-opacity="0.12" stroke-width="0.5"/>
<rect x="187.95" y="201.60" width="8.10" height="24.61" fill="#69a843"/>
<rect x="187.95" y="226.21" width="8.10" height="10.95" fill="#2b4a86"/>
<rect x="187.95" y="237.17" width="8.10" height="68.73" fill="#a8002b"/>
<rect x="188.20" y="201.85" width="7.60" height="104.05" fill="none" stroke="#000" stroke-opacity="0.12" stroke-width="0.5"/>
<line x1="40.80" y1="199.50" x2="40.80" y2="306.50" stroke="#333" stroke-width="1.2"/>
<line x1="37.90" y1="305.95" x2="197.50" y2="305.95" stroke="#333" stroke-width="1.1"/>
<line x1="37.00" y1="305.90" x2="40.80" y2="305.90" stroke="#333" stroke-width="1.0"/>
<text x="35.00" y="308.60" font-size="7.7" text-anchor="end" fill="#000">0</text>
<line x1="37.00" y1="285.04" x2="40.80" y2="285.04" stroke="#333" stroke-width="1.0"/>
<text x="35.00" y="287.74" font-size="7.7" text-anchor="end" fill="#000" textLength="8.7" lengthAdjust="spacingAndGlyphs">20</text>
<line x1="37.00" y1="264.18" x2="40.80" y2="264.18" stroke="#333" stroke-width="1.0"/>
<text x="35.00" y="266.88" font-size="7.7" text-anchor="end" fill="#000" textLength="8.7" lengthAdjust="spacingAndGlyphs">40</text>
<line x1="37.00" y1="243.32" x2="40.80" y2="243.32" stroke="#333" stroke-width="1.0"/>
<text x="35.00" y="246.02" font-size="7.7" text-anchor="end" fill="#000" textLength="8.7" lengthAdjust="spacingAndGlyphs">60</text>
<line x1="37.00" y1="222.46" x2="40.80" y2="222.46" stroke="#333" stroke-width="1.0"/>
<text x="35.00" y="225.16" font-size="7.7" text-anchor="end" fill="#000" textLength="8.7" lengthAdjust="spacingAndGlyphs">80</text>
<line x1="37.00" y1="201.60" x2="40.80" y2="201.60" stroke="#333" stroke-width="1.0"/>
<text x="35.00" y="204.30" font-size="7.7" text-anchor="end" fill="#000" textLength="13.1" lengthAdjust="spacingAndGlyphs">100</text>
<line x1="45.85" y1="306.40" x2="45.85" y2="308.80" stroke="#222" stroke-width="1.0"/>
<text x="45.85" y="318.40" font-size="7.8" text-anchor="middle" fill="#111">-</text>
<line x1="55.59" y1="306.40" x2="55.59" y2="308.80" stroke="#222" stroke-width="1.0"/>
<text x="55.59" y="319.00" font-size="7.8" text-anchor="middle" fill="#111">+</text>
<line x1="65.33" y1="306.40" x2="65.33" y2="308.80" stroke="#222" stroke-width="1.0"/>
<text x="65.33" y="318.40" font-size="7.8" text-anchor="middle" fill="#111">-</text>
<line x1="75.07" y1="306.40" x2="75.07" y2="308.80" stroke="#222" stroke-width="1.0"/>
<text x="75.07" y="319.00" font-size="7.8" text-anchor="middle" fill="#111">+</text>
<line x1="84.81" y1="306.40" x2="84.81" y2="308.80" stroke="#222" stroke-width="1.0"/>
<text x="84.81" y="318.40" font-size="7.8" text-anchor="middle" fill="#111">-</text>
<line x1="94.55" y1="306.40" x2="94.55" y2="308.80" stroke="#222" stroke-width="1.0"/>
<text x="94.55" y="319.00" font-size="7.8" text-anchor="middle" fill="#111">+</text>
<line x1="104.29" y1="306.40" x2="104.29" y2="308.80" stroke="#222" stroke-width="1.0"/>
<text x="104.29" y="318.40" font-size="7.8" text-anchor="middle" fill="#111">-</text>
<line x1="114.03" y1="306.40" x2="114.03" y2="308.80" stroke="#222" stroke-width="1.0"/>
<text x="114.03" y="319.00" font-size="7.8" text-anchor="middle" fill="#111">+</text>
<line x1="123.77" y1="306.40" x2="123.77" y2="308.80" stroke="#222" stroke-width="1.0"/>
<text x="123.77" y="318.40" font-size="7.8" text-anchor="middle" fill="#111">-</text>
<line x1="133.51" y1="306.40" x2="133.51" y2="308.80" stroke="#222" stroke-width="1.0"/>
<text x="133.51" y="319.00" font-size="7.8" text-anchor="middle" fill="#111">+</text>
<line x1="143.25" y1="306.40" x2="143.25" y2="308.80" stroke="#222" stroke-width="1.0"/>
<text x="143.25" y="318.40" font-size="7.8" text-anchor="middle" fill="#111">-</text>
<line x1="152.99" y1="306.40" x2="152.99" y2="308.80" stroke="#222" stroke-width="1.0"/>
<text x="152.99" y="319.00" font-size="7.8" text-anchor="middle" fill="#111">+</text>
<line x1="162.73" y1="306.40" x2="162.73" y2="308.80" stroke="#222" stroke-width="1.0"/>
<text x="162.73" y="318.40" font-size="7.8" text-anchor="middle" fill="#111">-</text>
<line x1="172.47" y1="306.40" x2="172.47" y2="308.80" stroke="#222" stroke-width="1.0"/>
<text x="172.47" y="319.00" font-size="7.8" text-anchor="middle" fill="#111">+</text>
<line x1="182.21" y1="306.40" x2="182.21" y2="308.80" stroke="#222" stroke-width="1.0"/>
<text x="182.21" y="318.40" font-size="7.8" text-anchor="middle" fill="#111">-</text>
<line x1="191.95" y1="306.40" x2="191.95" y2="308.80" stroke="#222" stroke-width="1.0"/>
<text x="191.95" y="319.00" font-size="7.8" text-anchor="middle" fill="#111">+</text>
<line x1="45.00" y1="323.60" x2="54.90" y2="323.60" stroke="#777" stroke-width="1.5"/>
<line x1="64.58" y1="323.60" x2="74.48" y2="323.60" stroke="#777" stroke-width="1.5"/>
<line x1="84.16" y1="323.60" x2="94.06" y2="323.60" stroke="#777" stroke-width="1.5"/>
<line x1="103.74" y1="323.60" x2="113.64" y2="323.60" stroke="#777" stroke-width="1.5"/>
<line x1="123.32" y1="323.60" x2="133.22" y2="323.60" stroke="#777" stroke-width="1.5"/>
<line x1="142.90" y1="323.60" x2="152.80" y2="323.60" stroke="#777" stroke-width="1.5"/>
<line x1="162.48" y1="323.60" x2="172.38" y2="323.60" stroke="#777" stroke-width="1.5"/>
<line x1="182.06" y1="323.60" x2="191.96" y2="323.60" stroke="#777" stroke-width="1.5"/>
<line x1="45.00" y1="197.90" x2="57.00" y2="197.90" stroke="#6a6a6a" stroke-width="1.5"/>
<text x="51.00" y="197.40" font-size="7.0" text-anchor="middle" font-weight="bold" fill="#222">**</text>
<line x1="64.48" y1="197.90" x2="76.48" y2="197.90" stroke="#6a6a6a" stroke-width="1.5"/>
<text x="70.48" y="197.40" font-size="7.0" text-anchor="middle" font-weight="bold" fill="#222">***</text>
<line x1="83.96" y1="197.90" x2="95.96" y2="197.90" stroke="#6a6a6a" stroke-width="1.5"/>
<text x="89.96" y="197.40" font-size="7.0" text-anchor="middle" font-weight="bold" fill="#222">**</text>
<line x1="103.44" y1="197.90" x2="115.44" y2="197.90" stroke="#6a6a6a" stroke-width="1.5"/>
<text x="109.44" y="197.40" font-size="7.0" text-anchor="middle" font-weight="bold" fill="#222">***</text>
<line x1="122.92" y1="197.90" x2="134.92" y2="197.90" stroke="#6a6a6a" stroke-width="1.5"/>
<text x="128.92" y="197.40" font-size="7.0" text-anchor="middle" font-weight="bold" fill="#222">**</text>
<line x1="142.40" y1="197.90" x2="154.40" y2="197.90" stroke="#6a6a6a" stroke-width="1.5"/>
<text x="148.40" y="197.40" font-size="7.0" text-anchor="middle" font-weight="bold" fill="#222">*</text>
<line x1="161.88" y1="197.90" x2="173.88" y2="197.90" stroke="#6a6a6a" stroke-width="1.5"/>
<text x="167.88" y="197.40" font-size="7.0" text-anchor="middle" font-weight="bold" fill="#222">**</text>
<line x1="181.36" y1="197.90" x2="193.36" y2="197.90" stroke="#6a6a6a" stroke-width="1.5"/>
<text x="187.36" y="195.20" font-size="7.6" text-anchor="middle" fill="#333">ns</text>
<rect x="202.20" y="202.00" width="8.50" height="4.50" fill="#69a843"/>
<text x="213.40" y="206.60" font-size="7.4" fill="#111">S</text>
<rect x="202.20" y="210.70" width="8.50" height="4.50" fill="#2b4a86"/>
<text x="213.40" y="215.30" font-size="7.4" fill="#111">G2</text>
<rect x="202.20" y="219.40" width="8.50" height="4.50" fill="#a8002b"/>
<text x="213.40" y="224.00" font-size="7.4" fill="#111">G1</text>
<text x="201.20" y="315.40" font-size="8.2" fill="#111" textLength="30.5" lengthAdjust="spacingAndGlyphs">MK2206</text>
<text x="201.20" y="325.20" font-size="8.2" fill="#111" textLength="24.6" lengthAdjust="spacingAndGlyphs">2.5 &#956;M</text>
<text transform="translate(53.00,330.60) rotate(-45)" font-size="8.1" text-anchor="end" fill="#111">XG-3</text>
<text transform="translate(72.60,330.60) rotate(-45)" font-size="8.1" text-anchor="end" fill="#111">LME-1</text>
<text transform="translate(92.20,330.60) rotate(-45)" font-size="8.1" text-anchor="end" fill="#111">LP-1</text>
<text transform="translate(111.80,330.60) rotate(-45)" font-size="8.1" text-anchor="end" fill="#111">MM1.S</text>
<text transform="translate(131.40,330.60) rotate(-45)" font-size="8.1" text-anchor="end" fill="#111">XG-1</text>
<text transform="translate(151.00,330.60) rotate(-45)" font-size="8.1" text-anchor="end" fill="#111">ANBL-6</text>
<text transform="translate(170.60,330.60) rotate(-45)" font-size="8.1" text-anchor="end" fill="#111">UM-3</text>
<text transform="translate(190.60,330.00) rotate(-45)" font-size="8.1" text-anchor="end" fill="#111">RPMI-</text>
<text transform="translate(198.20,337.3) rotate(-45)" font-size="8.1" text-anchor="end" fill="#111">8226</text>
<text x="241.40" y="187.00" font-size="11.5" font-weight="bold" fill="#000">C</text>
<rect x="276.70" y="211.60" width="9.70" height="28.00" fill="#69a843"/>
<rect x="276.70" y="239.60" width="9.70" height="7.24" fill="#2b4a86"/>
<rect x="276.70" y="246.83" width="9.70" height="37.12" fill="#a8002b"/>
<rect x="276.95" y="211.85" width="9.20" height="72.10" fill="none" stroke="#000" stroke-opacity="0.12" stroke-width="0.5"/>
<rect x="290.60" y="211.60" width="9.70" height="7.52" fill="#69a843"/>
<rect x="290.60" y="219.12" width="9.70" height="3.69" fill="#2b4a86"/>
<rect x="290.60" y="222.81" width="9.70" height="61.14" fill="#a8002b"/>
<rect x="290.85" y="211.85" width="9.20" height="72.10" fill="none" stroke="#000" stroke-opacity="0.12" stroke-width="0.5"/>
<rect x="304.40" y="211.60" width="9.70" height="30.03" fill="#69a843"/>
<rect x="304.40" y="241.63" width="9.70" height="6.58" fill="#2b4a86"/>
<rect x="304.40" y="248.21" width="9.70" height="35.74" fill="#a8002b"/>
<rect x="304.65" y="211.85" width="9.20" height="72.10" fill="none" stroke="#000" stroke-opacity="0.12" stroke-width="0.5"/>
<rect x="318.20" y="211.60" width="9.70" height="21.71" fill="#69a843"/>
<rect x="318.20" y="233.30" width="9.70" height="4.63" fill="#2b4a86"/>
<rect x="318.20" y="237.94" width="9.70" height="46.01" fill="#a8002b"/>
<rect x="318.45" y="211.85" width="9.20" height="72.10" fill="none" stroke="#000" stroke-opacity="0.12" stroke-width="0.5"/>
<line x1="275.00" y1="209.00" x2="275.00" y2="284.60" stroke="#444" stroke-width="1.4"/>
<line x1="272.50" y1="284.15" x2="329.50" y2="284.15" stroke="#333" stroke-width="1.1"/>
<line x1="272.20" y1="283.95" x2="275.00" y2="283.95" stroke="#222" stroke-width="1.0"/>
<text x="268.90" y="286.55" font-size="7.4" text-anchor="end" fill="#000">0</text>
<line x1="272.20" y1="269.48" x2="275.00" y2="269.48" stroke="#222" stroke-width="1.0"/>
<text x="268.90" y="272.08" font-size="7.4" text-anchor="end" fill="#000" textLength="8.2" lengthAdjust="spacingAndGlyphs">20</text>
<line x1="272.20" y1="255.01" x2="275.00" y2="255.01" stroke="#222" stroke-width="1.0"/>
<text x="268.90" y="257.61" font-size="7.4" text-anchor="end" fill="#000" textLength="8.2" lengthAdjust="spacingAndGlyphs">40</text>
<line x1="272.20" y1="240.54" x2="275.00" y2="240.54" stroke="#222" stroke-width="1.0"/>
<text x="268.90" y="243.14" font-size="7.4" text-anchor="end" fill="#000" textLength="8.2" lengthAdjust="spacingAndGlyphs">60</text>
<line x1="272.20" y1="226.07" x2="275.00" y2="226.07" stroke="#222" stroke-width="1.0"/>
<text x="268.90" y="228.67" font-size="7.4" text-anchor="end" fill="#000" textLength="8.2" lengthAdjust="spacingAndGlyphs">80</text>
<line x1="272.20" y1="211.60" x2="275.00" y2="211.60" stroke="#222" stroke-width="1.0"/>
<text x="268.90" y="214.20" font-size="7.4" text-anchor="end" fill="#000" textLength="12.3" lengthAdjust="spacingAndGlyphs">100</text>
<line x1="281.40" y1="283.95" x2="281.40" y2="286.45" stroke="#333" stroke-width="0.8"/>
<text transform="translate(284.00,293.0) rotate(-45)" font-size="7.9" text-anchor="end" fill="#111">Control</text>
<line x1="295.30" y1="283.95" x2="295.30" y2="286.45" stroke="#333" stroke-width="0.8"/>
<text x="295.30" y="212.00" font-size="6.4" text-anchor="middle" font-weight="bold" fill="#222">***</text>
<text transform="translate(297.90,293.0) rotate(-45)" font-size="7.9" text-anchor="end" fill="#111">Control + MK</text>
<line x1="309.10" y1="283.95" x2="309.10" y2="286.45" stroke="#333" stroke-width="0.8"/>
<text x="309.10" y="208.90" font-size="6.6" text-anchor="middle" fill="#333">ns</text>
<text transform="translate(311.70,293.0) rotate(-45)" font-size="7.9" text-anchor="end" fill="#111">FOXO1 KO</text>
<line x1="322.90" y1="283.95" x2="322.90" y2="286.45" stroke="#333" stroke-width="0.8"/>
<text x="322.90" y="208.90" font-size="6.6" text-anchor="middle" fill="#333">ns</text>
<text transform="translate(325.50,293.0) rotate(-45)" font-size="7.9" text-anchor="end" fill="#111">FOXO1 KO + MK</text>
<text x="302.50" y="199.60" font-size="9.2" text-anchor="middle" fill="#111">LME-1</text>
<rect x="355.70" y="211.60" width="9.70" height="10.42" fill="#69a843"/>
<rect x="355.70" y="222.02" width="9.70" height="9.12" fill="#2b4a86"/>
<rect x="355.70" y="231.13" width="9.70" height="52.82" fill="#a8002b"/>
<rect x="355.95" y="211.85" width="9.20" height="72.10" fill="none" stroke="#000" stroke-opacity="0.12" stroke-width="0.5"/>
<rect x="369.60" y="211.60" width="9.70" height="1.45" fill="#69a843"/>
<rect x="369.60" y="213.05" width="9.70" height="10.13" fill="#2b4a86"/>
<rect x="369.60" y="223.18" width="9.70" height="60.77" fill="#a8002b"/>
<rect x="369.85" y="211.85" width="9.20" height="72.10" fill="none" stroke="#000" stroke-opacity="0.12" stroke-width="0.5"/>
<rect x="383.40" y="211.60" width="9.70" height="11.58" fill="#69a843"/>
<rect x="383.40" y="223.18" width="9.70" height="5.43" fill="#2b4a86"/>
<rect x="383.40" y="228.60" width="9.70" height="55.35" fill="#a8002b"/>
<rect x="383.65" y="211.85" width="9.20" height="72.10" fill="none" stroke="#000" stroke-opacity="0.12" stroke-width="0.5"/>
<rect x="397.20" y="211.60" width="9.70" height="11.58" fill="#69a843"/>
<rect x="397.20" y="223.18" width="9.70" height="6.66" fill="#2b4a86"/>
<rect x="397.20" y="229.83" width="9.70" height="54.12" fill="#a8002b"/>
<rect x="397.45" y="211.85" width="9.20" height="72.10" fill="none" stroke="#000" stroke-opacity="0.12" stroke-width="0.5"/>
<line x1="354.00" y1="209.00" x2="354.00" y2="284.60" stroke="#444" stroke-width="1.4"/>
<line x1="351.50" y1="284.15" x2="408.50" y2="284.15" stroke="#333" stroke-width="1.1"/>
<line x1="351.20" y1="283.95" x2="354.00" y2="283.95" stroke="#222" stroke-width="1.0"/>
<text x="347.90" y="286.55" font-size="7.4" text-anchor="end" fill="#000">0</text>
<line x1="351.20" y1="269.48" x2="354.00" y2="269.48" stroke="#222" stroke-width="1.0"/>
<text x="347.90" y="272.08" font-size="7.4" text-anchor="end" fill="#000" textLength="8.2" lengthAdjust="spacingAndGlyphs">20</text>
<line x1="351.20" y1="255.01" x2="354.00" y2="255.01" stroke="#222" stroke-width="1.0"/>
<text x="347.90" y="257.61" font-size="7.4" text-anchor="end" fill="#000" textLength="8.2" lengthAdjust="spacingAndGlyphs">40</text>
<line x1="351.20" y1="240.54" x2="354.00" y2="240.54" stroke="#222" stroke-width="1.0"/>
<text x="347.90" y="243.14" font-size="7.4" text-anchor="end" fill="#000" textLength="8.2" lengthAdjust="spacingAndGlyphs">60</text>
<line x1="351.20" y1="226.07" x2="354.00" y2="226.07" stroke="#222" stroke-width="1.0"/>
<text x="347.90" y="228.67" font-size="7.4" text-anchor="end" fill="#000" textLength="8.2" lengthAdjust="spacingAndGlyphs">80</text>
<line x1="351.20" y1="211.60" x2="354.00" y2="211.60" stroke="#222" stroke-width="1.0"/>
<text x="347.90" y="214.20" font-size="7.4" text-anchor="end" fill="#000" textLength="12.3" lengthAdjust="spacingAndGlyphs">100</text>
<line x1="360.40" y1="283.95" x2="360.40" y2="286.45" stroke="#333" stroke-width="0.8"/>
<text transform="translate(363.00,293.0) rotate(-45)" font-size="7.9" text-anchor="end" fill="#111">Control</text>
<line x1="374.30" y1="283.95" x2="374.30" y2="286.45" stroke="#333" stroke-width="0.8"/>
<text x="374.30" y="212.00" font-size="6.4" text-anchor="middle" font-weight="bold" fill="#222">***</text>
<text transform="translate(376.90,293.0) rotate(-45)" font-size="7.9" text-anchor="end" fill="#111">Control + MK</text>
<line x1="388.10" y1="283.95" x2="388.10" y2="286.45" stroke="#333" stroke-width="0.8"/>
<text x="388.10" y="208.90" font-size="6.6" text-anchor="middle" fill="#333">ns</text>
<text transform="translate(390.70,293.0) rotate(-45)" font-size="7.9" text-anchor="end" fill="#111">FOXO3 KO</text>
<line x1="401.90" y1="283.95" x2="401.90" y2="286.45" stroke="#333" stroke-width="0.8"/>
<text x="401.90" y="208.90" font-size="6.6" text-anchor="middle" fill="#333">ns</text>
<text transform="translate(404.50,293.0) rotate(-45)" font-size="7.9" text-anchor="end" fill="#111">FOXO3 KO + MK</text>
<text x="381.50" y="199.60" font-size="9.2" text-anchor="middle" fill="#111">MM1.S</text>
<rect x="433.90" y="211.60" width="9.70" height="23.88" fill="#69a843"/>
<rect x="433.90" y="235.48" width="9.70" height="3.18" fill="#2b4a86"/>
<rect x="433.90" y="238.66" width="9.70" height="45.29" fill="#a8002b"/>
<rect x="434.15" y="211.85" width="9.20" height="72.10" fill="none" stroke="#000" stroke-opacity="0.12" stroke-width="0.5"/>
<rect x="447.80" y="211.60" width="9.70" height="6.22" fill="#69a843"/>
<rect x="447.80" y="217.82" width="9.70" height="3.18" fill="#2b4a86"/>
<rect x="447.80" y="221.01" width="9.70" height="62.94" fill="#a8002b"/>
<rect x="448.05" y="211.85" width="9.20" height="72.10" fill="none" stroke="#000" stroke-opacity="0.12" stroke-width="0.5"/>
<rect x="461.60" y="211.60" width="9.70" height="22.93" fill="#69a843"/>
<rect x="461.60" y="234.53" width="9.70" height="4.12" fill="#2b4a86"/>
<rect x="461.60" y="238.66" width="9.70" height="45.29" fill="#a8002b"/>
<rect x="461.85" y="211.85" width="9.20" height="72.10" fill="none" stroke="#000" stroke-opacity="0.12" stroke-width="0.5"/>
<rect x="475.40" y="211.60" width="9.70" height="10.85" fill="#69a843"/>
<rect x="475.40" y="222.45" width="9.70" height="3.18" fill="#2b4a86"/>
<rect x="475.40" y="225.64" width="9.70" height="58.31" fill="#a8002b"/>
<rect x="475.65" y="211.85" width="9.20" height="72.10" fill="none" stroke="#000" stroke-opacity="0.12" stroke-width="0.5"/>
<line x1="432.20" y1="209.00" x2="432.20" y2="284.60" stroke="#444" stroke-width="1.4"/>
<line x1="429.70" y1="284.15" x2="486.70" y2="284.15" stroke="#333" stroke-width="1.1"/>
<line x1="429.40" y1="283.95" x2="432.20" y2="283.95" stroke="#222" stroke-width="1.0"/>
<text x="426.10" y="286.55" font-size="7.4" text-anchor="end" fill="#000">0</text>
<line x1="429.40" y1="269.48" x2="432.20" y2="269.48" stroke="#222" stroke-width="1.0"/>
<text x="426.10" y="272.08" font-size="7.4" text-anchor="end" fill="#000" textLength="8.2" lengthAdjust="spacingAndGlyphs">20</text>
<line x1="429.40" y1="255.01" x2="432.20" y2="255.01" stroke="#222" stroke-width="1.0"/>
<text x="426.10" y="257.61" font-size="7.4" text-anchor="end" fill="#000" textLength="8.2" lengthAdjust="spacingAndGlyphs">40</text>
<line x1="429.40" y1="240.54" x2="432.20" y2="240.54" stroke="#222" stroke-width="1.0"/>
<text x="426.10" y="243.14" font-size="7.4" text-anchor="end" fill="#000" textLength="8.2" lengthAdjust="spacingAndGlyphs">60</text>
<line x1="429.40" y1="226.07" x2="432.20" y2="226.07" stroke="#222" stroke-width="1.0"/>
<text x="426.10" y="228.67" font-size="7.4" text-anchor="end" fill="#000" textLength="8.2" lengthAdjust="spacingAndGlyphs">80</text>
<line x1="429.40" y1="211.60" x2="432.20" y2="211.60" stroke="#222" stroke-width="1.0"/>
<text x="426.10" y="214.20" font-size="7.4" text-anchor="end" fill="#000" textLength="12.3" lengthAdjust="spacingAndGlyphs">100</text>
<line x1="438.60" y1="283.95" x2="438.60" y2="286.45" stroke="#333" stroke-width="0.8"/>
<text transform="translate(441.20,293.0) rotate(-45)" font-size="7.9" text-anchor="end" fill="#111">Control</text>
<line x1="452.50" y1="283.95" x2="452.50" y2="286.45" stroke="#333" stroke-width="0.8"/>
<text x="452.50" y="212.00" font-size="6.4" text-anchor="middle" font-weight="bold" fill="#222">****</text>
<text transform="translate(455.10,293.0) rotate(-45)" font-size="7.9" text-anchor="end" fill="#111">Control + MK</text>
<line x1="466.30" y1="283.95" x2="466.30" y2="286.45" stroke="#333" stroke-width="0.8"/>
<text x="466.30" y="208.90" font-size="6.6" text-anchor="middle" fill="#333">ns</text>
<text transform="translate(468.90,293.0) rotate(-45)" font-size="7.9" text-anchor="end" fill="#111">FOXO3 KO</text>
<line x1="480.10" y1="283.95" x2="480.10" y2="286.45" stroke="#333" stroke-width="0.8"/>
<text x="480.10" y="212.00" font-size="6.4" text-anchor="middle" font-weight="bold" fill="#222">***</text>
<text transform="translate(482.70,293.0) rotate(-45)" font-size="7.9" text-anchor="end" fill="#111">FOXO3 KO + MK</text>
<text x="459.70" y="199.60" font-size="9.2" text-anchor="middle" fill="#111">XG-3</text>
<text transform="translate(248.6,246.7) rotate(-90)" font-size="8.2" text-anchor="middle" fill="#111" textLength="47.3" lengthAdjust="spacingAndGlyphs" stroke="#111" stroke-width="0.1">% cells in phase</text>
<text transform="translate(15.3,252.2) rotate(-90)" font-size="8.2" text-anchor="middle" fill="#111" textLength="47.3" lengthAdjust="spacingAndGlyphs" stroke="#111" stroke-width="0.1">% cells in phase</text>
<rect x="491.00" y="210.40" width="7.80" height="4.20" fill="#69a843"/>
<text x="502.00" y="214.70" font-size="7.2" fill="#111">S</text>
<rect x="491.00" y="218.85" width="7.80" height="4.20" fill="#2b4a86"/>
<text x="502.00" y="223.15" font-size="7.2" fill="#111">G2</text>
<rect x="491.00" y="227.30" width="7.80" height="4.20" fill="#a8002b"/>
<text x="502.00" y="231.60" font-size="7.2" fill="#111">G1</text>
<text x="7.40" y="373.20" font-size="11.5" font-weight="bold" fill="#000">D</text>
<defs><filter id="bl" x="-30%" y="-80%" width="160%" height="260%"><feGaussianBlur stdDeviation="0.55"/></filter><filter id="bl2" x="-30%" y="-30%" width="160%" height="160%"><feGaussianBlur stdDeviation="1.2"/></filter><filter id="bl3" x="-40%" y="-80%" width="180%" height="260%"><feGaussianBlur stdDeviation="0.9"/></filter></defs>
<rect x="57.40" y="416.80" width="70.30" height="12.80" fill="#e8e8e8" stroke="#333" stroke-width="1.0"/>
<rect x="59.60" y="421.65" width="9.80" height="2.90" rx="1.45" fill="rgb(30,30,30)" filter="url(#bl)"/>
<rect x="71.65" y="421.80" width="9.10" height="2.60" rx="1.30" fill="rgb(45,45,45)" filter="url(#bl)"/>
<rect x="83.15" y="421.80" width="9.10" height="2.60" rx="1.30" fill="rgb(45,45,45)" filter="url(#bl)"/>
<rect x="93.95" y="421.10" width="9.90" height="4.00" rx="2.00" fill="rgb(15,15,15)" filter="url(#bl)"/>
<rect x="104.85" y="421.35" width="9.30" height="3.50" rx="1.75" fill="rgb(25,25,25)" filter="url(#bl)"/>
<rect x="116.35" y="421.35" width="9.70" height="3.50" rx="1.75" fill="rgb(25,25,25)" filter="url(#bl)"/>
<rect x="57.40" y="432.90" width="70.30" height="13.30" fill="#e8e8e8" stroke="#333" stroke-width="1.0"/>
<rect x="94.10" y="434.10" width="9.00" height="10.90" fill="#c0c0c0" opacity="0.6" filter="url(#bl2)"/>
<rect x="104.80" y="434.10" width="9.00" height="10.90" fill="#c0c0c0" opacity="0.6" filter="url(#bl2)"/>
<rect x="116.35" y="434.10" width="8.50" height="10.90" fill="#c0c0c0" opacity="0.6" filter="url(#bl2)"/>
<rect x="60.00" y="436.70" width="8.00" height="2.40" rx="1.20" fill="rgb(150,150,150)" filter="url(#bl3)"/>
<rect x="72.50" y="436.80" width="7.00" height="2.20" rx="1.10" fill="rgb(165,165,165)" filter="url(#bl3)"/>
<rect x="84.00" y="436.80" width="7.00" height="2.20" rx="1.10" fill="rgb(170,170,170)" filter="url(#bl3)"/>
<rect x="94.10" y="436.30" width="9.00" height="3.20" rx="1.60" fill="rgb(50,50,50)" filter="url(#bl3)"/>
<rect x="104.80" y="436.20" width="9.00" height="3.40" rx="1.70" fill="rgb(45,45,45)" filter="url(#bl3)"/>
<rect x="116.35" y="436.40" width="8.50" height="3.00" rx="1.50" fill="rgb(90,90,90)" filter="url(#bl3)"/>
<rect x="57.40" y="448.90" width="70.30" height="13.90" fill="#e8e8e8" stroke="#333" stroke-width="1.0"/>
<rect x="59.60" y="453.30" width="10.60" height="5.00" rx="2.50" fill="rgb(18,18,18)" filter="url(#bl)"/>
<rect x="70.90" y="453.40" width="10.40" height="4.80" rx="2.40" fill="rgb(18,18,18)" filter="url(#bl)"/>
<rect x="82.40" y="453.40" width="9.80" height="4.80" rx="2.40" fill="rgb(18,18,18)" filter="url(#bl)"/>
<rect x="93.25" y="453.30" width="10.10" height="5.00" rx="2.50" fill="rgb(18,18,18)" filter="url(#bl)"/>
<rect x="103.95" y="453.30" width="10.10" height="5.00" rx="2.50" fill="rgb(18,18,18)" filter="url(#bl)"/>
<rect x="114.95" y="453.30" width="10.50" height="5.00" rx="2.50" fill="rgb(18,18,18)" filter="url(#bl)"/>
<rect x="57.40" y="470.60" width="70.30" height="13.70" fill="#e8e8e8" stroke="#333" stroke-width="1.0"/>
<rect x="94.00" y="474.30" width="8.00" height="5.80" rx="2.90" fill="rgb(10,10,10)" filter="url(#bl)"/>
<rect x="104.80" y="475.20" width="8.00" height="4.00" rx="2.00" fill="rgb(18,18,18)" filter="url(#bl)"/>
<rect x="116.35" y="475.30" width="7.70" height="3.80" rx="1.90" fill="rgb(22,22,22)" filter="url(#bl)"/>
<rect x="57.40" y="486.80" width="70.30" height="13.30" fill="#e8e8e8" stroke="#333" stroke-width="1.0"/>
<rect x="59.70" y="491.50" width="10.40" height="4.20" rx="2.10" fill="rgb(15,15,15)" filter="url(#bl)"/>
<rect x="71.10" y="491.60" width="10.00" height="4.00" rx="2.00" fill="rgb(15,15,15)" filter="url(#bl)"/>
<rect x="82.60" y="491.70" width="9.40" height="3.80" rx="1.90" fill="rgb(20,20,20)" filter="url(#bl)"/>
<rect x="93.50" y="491.70" width="9.60" height="3.80" rx="1.90" fill="rgb(20,20,20)" filter="url(#bl)"/>
<rect x="104.10" y="491.60" width="9.80" height="4.00" rx="2.00" fill="rgb(18,18,18)" filter="url(#bl)"/>
<rect x="115.30" y="491.60" width="9.80" height="4.00" rx="2.00" fill="rgb(18,18,18)" filter="url(#bl)"/>
<text x="91.60" y="386.90" font-size="9.6" text-anchor="middle" fill="#111">LME-1</text>
<polyline points="62.50,404.0 62.50,400.2 91.00,400.2 91.00,404.0" fill="none" stroke="#111" stroke-width="0.9"/>
<text x="76.75" y="397.90" font-size="7.3" text-anchor="middle" fill="#111">Control</text>
<polygon points="62.50,412.9 90.50,407.2 90.50,412.9" fill="#fff" stroke="#111" stroke-width="0.9" stroke-linejoin="miter"/>
<polygon points="62.50,412.9 74.50,410.5 74.50,412.9" fill="#111"/>
<polyline points="94.50,404.0 94.50,400.2 123.30,400.2 123.30,404.0" fill="none" stroke="#111" stroke-width="0.9"/>
<text x="111.20" y="397.90" font-size="7.3" text-anchor="middle" fill="#111">FOXO1 KO</text>
<polygon points="94.50,412.9 122.80,407.2 122.80,412.9" fill="#fff" stroke="#111" stroke-width="0.9" stroke-linejoin="miter"/>
<polygon points="94.50,412.9 106.50,410.5 106.50,412.9" fill="#111"/>
<rect x="139.40" y="416.80" width="71.50" height="12.80" fill="#e8e8e8" stroke="#333" stroke-width="1.0"/>
<rect x="140.75" y="422.45" width="10.90" height="4.10" rx="2.05" fill="rgb(20,20,20)" filter="url(#bl)"/>
<rect x="154.55" y="423.50" width="8.10" height="2.00" rx="1.00" fill="rgb(55,55,55)" filter="url(#bl)"/>
<rect x="165.55" y="423.50" width="7.30" height="2.00" rx="1.00" fill="rgb(55,55,55)" filter="url(#bl)"/>
<rect x="175.75" y="422.00" width="10.30" height="5.00" rx="2.50" fill="rgb(12,12,12)" filter="url(#bl)"/>
<rect x="186.00" y="422.00" width="10.20" height="5.00" rx="2.50" fill="rgb(12,12,12)" filter="url(#bl)"/>
<rect x="197.00" y="422.00" width="10.40" height="5.00" rx="2.50" fill="rgb(12,12,12)" filter="url(#bl)"/>
<rect x="139.40" y="432.90" width="71.50" height="13.30" fill="#e8e8e8" stroke="#333" stroke-width="1.0"/>
<rect x="141.45" y="434.10" width="9.50" height="10.90" fill="#c0c0c0" opacity="0.6" filter="url(#bl2)"/>
<rect x="153.00" y="434.10" width="8.00" height="10.90" fill="#c0c0c0" opacity="0.6" filter="url(#bl2)"/>
<rect x="164.80" y="434.10" width="7.20" height="10.90" fill="#c0c0c0" opacity="0.6" filter="url(#bl2)"/>
<rect x="174.30" y="434.10" width="8.00" height="10.90" fill="#c0c0c0" opacity="0.6" filter="url(#bl2)"/>
<rect x="185.25" y="434.10" width="8.10" height="10.90" fill="#c0c0c0" opacity="0.6" filter="url(#bl2)"/>
<rect x="196.25" y="434.10" width="7.30" height="10.90" fill="#c0c0c0" opacity="0.6" filter="url(#bl2)"/>
<rect x="141.45" y="435.85" width="9.50" height="6.50" rx="3.25" fill="rgb(10,10,10)" filter="url(#bl3)"/>
<rect x="153.00" y="436.90" width="8.00" height="4.40" rx="2.20" fill="rgb(35,35,35)" filter="url(#bl3)"/>
<rect x="164.80" y="437.50" width="7.20" height="3.20" rx="1.60" fill="rgb(85,85,85)" filter="url(#bl3)"/>
<rect x="174.30" y="437.10" width="8.00" height="4.00" rx="2.00" fill="rgb(50,50,50)" filter="url(#bl3)"/>
<rect x="185.25" y="436.75" width="8.10" height="4.70" rx="2.35" fill="rgb(35,35,35)" filter="url(#bl3)"/>
<rect x="196.25" y="437.35" width="7.30" height="3.50" rx="1.75" fill="rgb(70,70,70)" filter="url(#bl3)"/>
<rect x="139.40" y="448.90" width="71.50" height="13.90" fill="#e8e8e8" stroke="#333" stroke-width="1.0"/>
<rect x="141.00" y="453.30" width="10.80" height="5.80" rx="2.90" fill="rgb(18,18,18)" filter="url(#bl)"/>
<rect x="151.70" y="453.30" width="10.80" height="5.80" rx="2.90" fill="rgb(18,18,18)" filter="url(#bl)"/>
<rect x="163.10" y="453.30" width="10.80" height="5.80" rx="2.90" fill="rgb(18,18,18)" filter="url(#bl)"/>
<rect x="174.10" y="453.30" width="10.80" height="5.80" rx="2.90" fill="rgb(18,18,18)" filter="url(#bl)"/>
<rect x="185.10" y="453.30" width="10.80" height="5.80" rx="2.90" fill="rgb(18,18,18)" filter="url(#bl)"/>
<rect x="195.40" y="453.30" width="10.40" height="5.80" rx="2.90" fill="rgb(18,18,18)" filter="url(#bl)"/>
<rect x="139.40" y="470.60" width="71.50" height="13.70" fill="#e8e8e8" stroke="#333" stroke-width="1.0"/>
<rect x="142.10" y="474.90" width="8.80" height="7.00" rx="3.50" fill="rgb(10,10,10)" filter="url(#bl)"/>
<rect x="154.55" y="476.80" width="7.30" height="3.20" rx="1.60" fill="rgb(105,105,105)" filter="url(#bl)"/>
<rect x="166.20" y="476.95" width="6.60" height="2.90" rx="1.45" fill="rgb(125,125,125)" filter="url(#bl)"/>
<rect x="177.20" y="474.75" width="8.80" height="7.30" rx="3.65" fill="rgb(10,10,10)" filter="url(#bl)"/>
<rect x="187.40" y="474.75" width="8.80" height="7.30" rx="3.65" fill="rgb(10,10,10)" filter="url(#bl)"/>
<rect x="199.15" y="475.50" width="8.10" height="5.80" rx="2.90" fill="rgb(25,25,25)" filter="url(#bl)"/>
<rect x="139.40" y="486.80" width="71.50" height="13.30" fill="#e8e8e8" stroke="#333" stroke-width="1.0"/>
<rect x="140.85" y="493.35" width="9.50" height="3.30" rx="1.65" fill="rgb(20,20,20)" filter="url(#bl)"/>
<rect x="152.70" y="493.40" width="9.00" height="3.20" rx="1.60" fill="rgb(22,22,22)" filter="url(#bl)"/>
<rect x="164.85" y="493.50" width="8.90" height="3.00" rx="1.50" fill="rgb(25,25,25)" filter="url(#bl)"/>
<rect x="176.50" y="493.35" width="8.20" height="3.30" rx="1.65" fill="rgb(20,20,20)" filter="url(#bl)"/>
<rect x="187.30" y="493.40" width="8.20" height="3.20" rx="1.60" fill="rgb(22,22,22)" filter="url(#bl)"/>
<rect x="198.20" y="493.60" width="8.80" height="2.80" rx="1.40" fill="rgb(30,30,30)" filter="url(#bl)"/>
<text x="175.00" y="386.90" font-size="9.6" text-anchor="middle" fill="#111">MM1.S</text>
<polyline points="144.50,404.0 144.50,400.2 173.00,400.2 173.00,404.0" fill="none" stroke="#111" stroke-width="0.9"/>
<text x="158.75" y="397.90" font-size="7.3" text-anchor="middle" fill="#111">Control</text>
<polygon points="144.50,412.9 172.50,407.2 172.50,412.9" fill="#fff" stroke="#111" stroke-width="0.9" stroke-linejoin="miter"/>
<polygon points="144.50,412.9 156.50,410.5 156.50,412.9" fill="#111"/>
<polyline points="176.50,404.0 176.50,400.2 205.30,400.2 205.30,404.0" fill="none" stroke="#111" stroke-width="0.9"/>
<text x="193.20" y="397.90" font-size="7.3" text-anchor="middle" fill="#111">FOXO3 KO</text>
<polygon points="176.50,412.9 204.80,407.2 204.80,412.9" fill="#fff" stroke="#111" stroke-width="0.9" stroke-linejoin="miter"/>
<polygon points="176.50,412.9 188.50,410.5 188.50,412.9" fill="#111"/>
<rect x="221.30" y="416.80" width="68.30" height="12.80" fill="#e8e8e8" stroke="#333" stroke-width="1.0"/>
<rect x="222.45" y="423.25" width="9.50" height="2.90" rx="1.45" fill="rgb(35,35,35)" filter="url(#bl)"/>
<rect x="234.00" y="423.80" width="8.00" height="1.80" rx="0.90" fill="rgb(195,195,195)" filter="url(#bl)"/>
<rect x="245.80" y="423.80" width="8.00" height="1.80" rx="0.90" fill="rgb(195,195,195)" filter="url(#bl)"/>
<rect x="256.70" y="422.95" width="8.80" height="3.50" rx="1.75" fill="rgb(15,15,15)" filter="url(#bl)"/>
<rect x="267.70" y="423.25" width="8.80" height="2.90" rx="1.45" fill="rgb(30,30,30)" filter="url(#bl)"/>
<rect x="278.65" y="423.40" width="8.70" height="2.60" rx="1.30" fill="rgb(50,50,50)" filter="url(#bl)"/>
<rect x="221.30" y="432.90" width="68.30" height="13.30" fill="#e8e8e8" stroke="#333" stroke-width="1.0"/>
<rect x="223.85" y="434.10" width="8.10" height="10.90" fill="#c0c0c0" opacity="0.6" filter="url(#bl2)"/>
<rect x="257.25" y="434.10" width="8.30" height="10.90" fill="#c0c0c0" opacity="0.6" filter="url(#bl2)"/>
<rect x="267.05" y="434.10" width="9.50" height="10.90" fill="#c0c0c0" opacity="0.6" filter="url(#bl2)"/>
<rect x="278.25" y="434.10" width="8.50" height="10.90" fill="#c0c0c0" opacity="0.6" filter="url(#bl2)"/>
<rect x="223.85" y="436.20" width="8.10" height="5.80" rx="2.90" fill="rgb(80,80,80)" filter="url(#bl3)"/>
<rect x="235.55" y="437.30" width="7.30" height="3.60" rx="1.80" fill="rgb(145,145,145)" filter="url(#bl3)"/>
<rect x="245.80" y="437.65" width="7.20" height="2.90" rx="1.45" fill="rgb(180,180,180)" filter="url(#bl3)"/>
<rect x="257.25" y="435.80" width="8.30" height="6.60" rx="3.30" fill="rgb(40,40,40)" filter="url(#bl3)"/>
<rect x="267.05" y="435.60" width="9.50" height="7.00" rx="3.50" fill="rgb(25,25,25)" filter="url(#bl3)"/>
<rect x="278.25" y="436.20" width="8.50" height="5.80" rx="2.90" fill="rgb(55,55,55)" filter="url(#bl3)"/>
<rect x="221.30" y="448.90" width="68.30" height="13.90" fill="#e8e8e8" stroke="#333" stroke-width="1.0"/>
<rect x="223.85" y="453.40" width="10.30" height="4.40" rx="2.20" fill="rgb(10,10,10)" filter="url(#bl)"/>
<rect x="235.45" y="454.15" width="9.10" height="2.90" rx="1.45" fill="rgb(22,22,22)" filter="url(#bl)"/>
<rect x="246.50" y="454.60" width="8.80" height="2.00" rx="1.00" fill="rgb(28,28,28)" filter="url(#bl)"/>
<rect x="256.30" y="453.05" width="9.20" height="5.10" rx="2.55" fill="rgb(10,10,10)" filter="url(#bl)"/>
<rect x="266.25" y="453.05" width="10.30" height="5.10" rx="2.55" fill="rgb(10,10,10)" filter="url(#bl)"/>
<rect x="277.25" y="453.55" width="9.50" height="4.10" rx="2.05" fill="rgb(15,15,15)" filter="url(#bl)"/>
<rect x="221.30" y="470.60" width="68.30" height="13.70" fill="#e8e8e8" stroke="#333" stroke-width="1.0"/>
<rect x="223.65" y="474.55" width="8.70" height="5.10" rx="2.55" fill="rgb(40,40,40)" filter="url(#bl)"/>
<rect x="235.55" y="475.65" width="7.30" height="2.90" rx="1.45" fill="rgb(200,200,200)" filter="url(#bl)"/>
<rect x="245.40" y="475.65" width="6.60" height="2.90" rx="1.45" fill="rgb(212,212,212)" filter="url(#bl)"/>
<rect x="257.85" y="473.80" width="7.70" height="6.60" rx="3.30" fill="rgb(10,10,10)" filter="url(#bl)"/>
<rect x="268.35" y="474.75" width="7.30" height="4.70" rx="2.35" fill="rgb(60,60,60)" filter="url(#bl)"/>
<rect x="279.05" y="475.05" width="7.70" height="4.10" rx="2.05" fill="rgb(115,115,115)" filter="url(#bl)"/>
<rect x="221.30" y="486.80" width="68.30" height="13.30" fill="#e8e8e8" stroke="#333" stroke-width="1.0"/>
<rect x="223.05" y="493.35" width="10.30" height="4.10" rx="2.05" fill="rgb(15,15,15)" filter="url(#bl)"/>
<rect x="234.15" y="493.35" width="10.30" height="4.10" rx="2.05" fill="rgb(15,15,15)" filter="url(#bl)"/>
<rect x="245.15" y="493.35" width="10.30" height="4.10" rx="2.05" fill="rgb(15,15,15)" filter="url(#bl)"/>
<rect x="256.25" y="493.35" width="10.30" height="4.10" rx="2.05" fill="rgb(15,15,15)" filter="url(#bl)"/>
<rect x="267.35" y="493.35" width="10.30" height="4.10" rx="2.05" fill="rgb(15,15,15)" filter="url(#bl)"/>
<rect x="278.40" y="493.35" width="9.80" height="4.10" rx="2.05" fill="rgb(15,15,15)" filter="url(#bl)"/>
<text x="256.00" y="386.90" font-size="9.6" text-anchor="middle" fill="#111">XG-3</text>
<polyline points="226.40,404.0 226.40,400.2 254.90,400.2 254.90,404.0" fill="none" stroke="#111" stroke-width="0.9"/>
<text x="240.65" y="397.90" font-size="7.3" text-anchor="middle" fill="#111">Control</text>
<polygon points="226.40,412.9 254.40,407.2 254.40,412.9" fill="#fff" stroke="#111" stroke-width="0.9" stroke-linejoin="miter"/>
<polygon points="226.40,412.9 238.40,410.5 238.40,412.9" fill="#111"/>
<polyline points="258.40,404.0 258.40,400.2 287.20,400.2 287.20,404.0" fill="none" stroke="#111" stroke-width="0.9"/>
<text x="275.10" y="397.90" font-size="7.3" text-anchor="middle" fill="#111">FOXO3 KO</text>
<polygon points="258.40,412.9 286.70,407.2 286.70,412.9" fill="#fff" stroke="#111" stroke-width="0.9" stroke-linejoin="miter"/>
<polygon points="258.40,412.9 270.40,410.5 270.40,412.9" fill="#111"/>
<text x="45.90" y="426.10" font-size="7.6" text-anchor="end" fill="#111">CDK4</text>
<line x1="47.60" y1="423.50" x2="54.00" y2="423.50" stroke="#111" stroke-width="0.9"/>
<polygon points="56.40,423.50 53.00,421.90 53.00,425.10" fill="#111"/>
<text x="45.90" y="441.00" font-size="7.6" text-anchor="end" fill="#111">C-MYC</text>
<line x1="47.60" y1="438.40" x2="54.00" y2="438.40" stroke="#111" stroke-width="0.9"/>
<polygon points="56.40,438.40 53.00,436.80 53.00,440.00" fill="#111"/>
<text x="45.90" y="458.50" font-size="7.6" text-anchor="end" fill="#111">&#946;-Actin</text>
<line x1="47.60" y1="455.90" x2="54.00" y2="455.90" stroke="#111" stroke-width="0.9"/>
<polygon points="56.40,455.90 53.00,454.30 53.00,457.50" fill="#111"/>
<text x="45.90" y="479.40" font-size="7.6" text-anchor="end" fill="#111">Cyclin D2</text>
<line x1="47.60" y1="476.80" x2="54.00" y2="476.80" stroke="#111" stroke-width="0.9"/>
<polygon points="56.40,476.80 53.00,475.20 53.00,478.40" fill="#111"/>
<text x="45.90" y="495.40" font-size="7.6" text-anchor="end" fill="#111">&#946;-Actin</text>
<line x1="47.60" y1="492.80" x2="54.00" y2="492.80" stroke="#111" stroke-width="0.9"/>
<polygon points="56.40,492.80 53.00,491.20 53.00,494.40" fill="#111"/>
<text x="58.00" y="408.20" font-size="5.0" text-anchor="end" fill="#333" textLength="32" lengthAdjust="spacingAndGlyphs">0/0.5/2.5 &#956;M</text>
<text x="58.00" y="414.60" font-size="5.0" text-anchor="end" fill="#333" textLength="19.6" lengthAdjust="spacingAndGlyphs">MK2206</text>
<line x1="290.20" y1="424.60" x2="293.00" y2="424.60" stroke="#111" stroke-width="0.9"/>
<text x="294.00" y="427.30" font-size="7.6" fill="#111" textLength="23" lengthAdjust="spacingAndGlyphs">30 kDa</text>
<line x1="290.20" y1="439.10" x2="293.00" y2="439.10" stroke="#111" stroke-width="0.9"/>
<text x="294.00" y="441.80" font-size="7.6" fill="#111" textLength="23" lengthAdjust="spacingAndGlyphs">60 kDa</text>
<line x1="290.20" y1="457.50" x2="293.00" y2="457.50" stroke="#111" stroke-width="0.9"/>
<text x="294.00" y="460.20" font-size="7.6" fill="#111" textLength="23" lengthAdjust="spacingAndGlyphs">45 kDa</text>
<line x1="290.20" y1="477.10" x2="293.00" y2="477.10" stroke="#111" stroke-width="0.9"/>
<text x="294.00" y="479.80" font-size="7.6" fill="#111" textLength="23" lengthAdjust="spacingAndGlyphs">30 kDa</text>
<line x1="290.20" y1="494.00" x2="293.00" y2="494.00" stroke="#111" stroke-width="0.9"/>
<text x="294.00" y="496.70" font-size="7.6" fill="#111" textLength="23" lengthAdjust="spacingAndGlyphs">45 kDa</text>
<rect x="0" y="0" width="1.1" height="507" fill="#000"/><rect x="0" y="0" width="520" height="1.1" fill="#000"/><rect x="518.8" y="0" width="1.2" height="507" fill="#000"/><rect x="0" y="505.8" width="520" height="1.2" fill="#000"/>
</svg>
</body></html>
